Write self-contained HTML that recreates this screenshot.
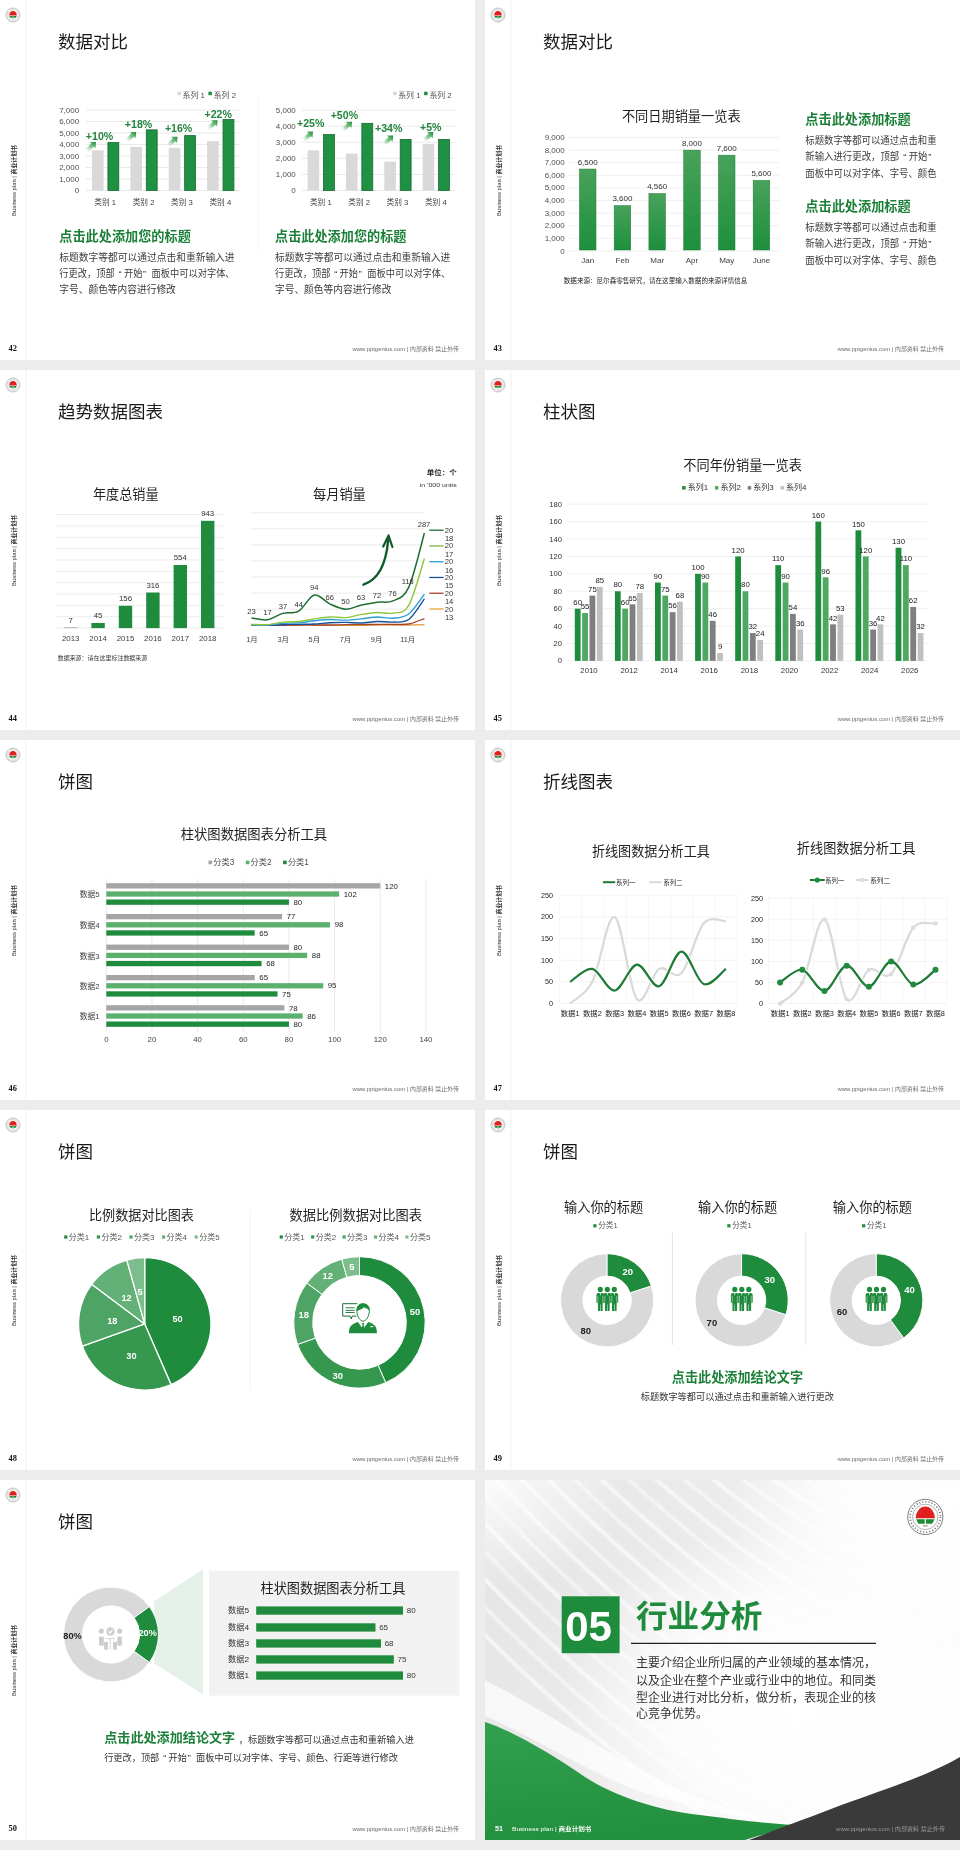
<!DOCTYPE html>
<html><head><meta charset="utf-8"><title>slides</title>
<style>
html,body{margin:0;padding:0;}
body{width:960px;height:1850px;background:#ececec;position:relative;overflow:hidden;font-family:'Liberation Sans','Noto Sans CJK SC',sans-serif;}
svg.s{position:absolute;display:block;font-family:'Liberation Sans','Noto Sans CJK SC',sans-serif;will-change:transform;}
</style></head><body>
<svg class="s" style="left:0px;top:0px" width="475" height="360" viewBox="0 0 475 360"><defs>
<linearGradient id="ga" x1="0" y1="0" x2="1" y2="0"><stop offset="0" stop-color="#8fd19c" stop-opacity="0"/><stop offset="0.45" stop-color="#5cb86c" stop-opacity="0.75"/><stop offset="1" stop-color="#1a8a36"/></linearGradient>
<linearGradient id="g43" x1="0" y1="0" x2="0" y2="1"><stop offset="0" stop-color="#48a25b"/><stop offset="1" stop-color="#1d8f3d"/></linearGradient>
</defs><rect width="475" height="360" fill="#fff"/><g transform="translate(13.00,15.00) scale(0.4)"><circle r="17.6" fill="none" stroke="#444" stroke-width="0.7"/><circle r="15.2" fill="none" stroke="#333" stroke-width="1.6" stroke-dasharray="1.1 2.0" opacity="0.7"/><circle r="12.7" fill="none" stroke="#666" stroke-width="0.5"/><path d="M-9.6,1.3 A9.6,11.6 0 0 1 9.6,1.3 Z" fill="#e0201c"/><path d="M-9.3,2.4 L-0.6,2.4 L-0.6,6.8 L-6.8,6.8 Z M9.3,2.4 L0.6,2.4 L0.6,6.8 L6.8,6.8 Z" fill="#1e8a36"/><rect x="-2.5" y="8.4" width="5" height="1.2" fill="#999"/></g><line x1="26.00" y1="0.00" x2="26.00" y2="360.00" stroke="#f1f1f1" stroke-width="1"/><text transform="translate(13.6,180.5) rotate(-90)" font-size="5.9" fill="#333" text-anchor="middle" dominant-baseline="central">Business plan | <tspan font-weight="bold">商业计划书</tspan></text><text x="8.6" y="348.6" font-size="8.4" font-weight="bold" fill="#111" dominant-baseline="central" font-family="'Liberation Serif',serif">42</text><text x="459.00" y="349.30" font-size="5.6" fill="#6a6a6a" text-anchor="end" textLength="106.5" lengthAdjust="spacingAndGlyphs" dominant-baseline="central">www.pptgenius.com | 内部资料 禁止外传</text><text x="58.00" y="42.30" font-size="17.5" fill="#1a1a1a" dominant-baseline="central">数据对比</text><line x1="86.00" y1="190.50" x2="239.50" y2="190.50" stroke="#dadada" stroke-width="0.6"/><text x="79.20" y="190.50" font-size="8.0" fill="#505050" text-anchor="end" dominant-baseline="central">0</text><line x1="86.00" y1="179.00" x2="239.50" y2="179.00" stroke="#dadada" stroke-width="0.6"/><text x="79.20" y="179.00" font-size="8.0" fill="#505050" text-anchor="end" dominant-baseline="central">1,000</text><line x1="86.00" y1="167.50" x2="239.50" y2="167.50" stroke="#dadada" stroke-width="0.6"/><text x="79.20" y="167.50" font-size="8.0" fill="#505050" text-anchor="end" dominant-baseline="central">2,000</text><line x1="86.00" y1="156.00" x2="239.50" y2="156.00" stroke="#dadada" stroke-width="0.6"/><text x="79.20" y="156.00" font-size="8.0" fill="#505050" text-anchor="end" dominant-baseline="central">3,000</text><line x1="86.00" y1="144.50" x2="239.50" y2="144.50" stroke="#dadada" stroke-width="0.6"/><text x="79.20" y="144.50" font-size="8.0" fill="#505050" text-anchor="end" dominant-baseline="central">4,000</text><line x1="86.00" y1="133.00" x2="239.50" y2="133.00" stroke="#dadada" stroke-width="0.6"/><text x="79.20" y="133.00" font-size="8.0" fill="#505050" text-anchor="end" dominant-baseline="central">5,000</text><line x1="86.00" y1="121.50" x2="239.50" y2="121.50" stroke="#dadada" stroke-width="0.6"/><text x="79.20" y="121.50" font-size="8.0" fill="#505050" text-anchor="end" dominant-baseline="central">6,000</text><line x1="86.00" y1="110.00" x2="239.50" y2="110.00" stroke="#dadada" stroke-width="0.6"/><text x="79.20" y="110.00" font-size="8.0" fill="#505050" text-anchor="end" dominant-baseline="central">7,000</text><rect x="92.00" y="150.25" width="11.60" height="40.25" fill="#d9d9d9"/><rect x="107.90" y="142.50" width="10.90" height="48.00" fill="#1e9142" stroke="#176b30" stroke-width="0.8"/><text x="105.19" y="202.70" font-size="7.7" fill="#404040" text-anchor="middle" dominant-baseline="central">类别 1</text><rect x="130.38" y="146.80" width="11.60" height="43.70" fill="#d9d9d9"/><rect x="146.28" y="129.85" width="10.90" height="60.65" fill="#1e9142" stroke="#176b30" stroke-width="0.8"/><text x="143.56" y="202.70" font-size="7.7" fill="#404040" text-anchor="middle" dominant-baseline="central">类别 2</text><rect x="168.75" y="147.95" width="11.60" height="42.55" fill="#d9d9d9"/><rect x="184.65" y="135.60" width="10.90" height="54.90" fill="#1e9142" stroke="#176b30" stroke-width="0.8"/><text x="181.94" y="202.70" font-size="7.7" fill="#404040" text-anchor="middle" dominant-baseline="central">类别 3</text><rect x="207.12" y="141.05" width="11.60" height="49.45" fill="#d9d9d9"/><rect x="223.03" y="119.50" width="10.90" height="71.00" fill="#1e9142" stroke="#176b30" stroke-width="0.8"/><text x="220.31" y="202.70" font-size="7.7" fill="#404040" text-anchor="middle" dominant-baseline="central">类别 4</text><rect x="177.50" y="91.70" width="3.50" height="3.50" fill="#d9d9d9"/><text x="182.50" y="95.60" font-size="7.9" fill="#505050" dominant-baseline="central">系列 1</text><rect x="208.40" y="91.70" width="3.50" height="3.50" fill="#1f8b3c"/><text x="213.70" y="95.60" font-size="7.9" fill="#505050" dominant-baseline="central">系列 2</text><g transform="translate(96.00,142.00) rotate(-42) scale(1.0)"><path d="M0,0 L-4.6,-4.3 L-4.6,-2.0 L-13,-2.0 L-13,2.0 L-4.6,2.0 L-4.6,4.3 Z" fill="url(#ga)"/></g><text x="85.80" y="135.90" font-size="10.6" fill="#22853d" font-weight="bold" dominant-baseline="central">+10%</text><g transform="translate(136.20,132.00) rotate(-42) scale(1.0)"><path d="M0,0 L-4.6,-4.3 L-4.6,-2.0 L-13,-2.0 L-13,2.0 L-4.6,2.0 L-4.6,4.3 Z" fill="url(#ga)"/></g><text x="124.80" y="124.20" font-size="10.6" fill="#22853d" font-weight="bold" dominant-baseline="central">+18%</text><g transform="translate(177.50,136.80) rotate(-42) scale(1.0)"><path d="M0,0 L-4.6,-4.3 L-4.6,-2.0 L-13,-2.0 L-13,2.0 L-4.6,2.0 L-4.6,4.3 Z" fill="url(#ga)"/></g><text x="164.90" y="128.20" font-size="10.6" fill="#22853d" font-weight="bold" dominant-baseline="central">+16%</text><g transform="translate(217.60,120.20) rotate(-42) scale(1.0)"><path d="M0,0 L-4.6,-4.3 L-4.6,-2.0 L-13,-2.0 L-13,2.0 L-4.6,2.0 L-4.6,4.3 Z" fill="url(#ga)"/></g><text x="204.50" y="113.90" font-size="10.6" fill="#22853d" font-weight="bold" dominant-baseline="central">+22%</text><line x1="301.60" y1="190.50" x2="455.00" y2="190.50" stroke="#dadada" stroke-width="0.6"/><text x="295.80" y="190.50" font-size="8.0" fill="#505050" text-anchor="end" dominant-baseline="central">0</text><line x1="301.60" y1="174.44" x2="455.00" y2="174.44" stroke="#dadada" stroke-width="0.6"/><text x="295.80" y="174.44" font-size="8.0" fill="#505050" text-anchor="end" dominant-baseline="central">1,000</text><line x1="301.60" y1="158.38" x2="455.00" y2="158.38" stroke="#dadada" stroke-width="0.6"/><text x="295.80" y="158.38" font-size="8.0" fill="#505050" text-anchor="end" dominant-baseline="central">2,000</text><line x1="301.60" y1="142.32" x2="455.00" y2="142.32" stroke="#dadada" stroke-width="0.6"/><text x="295.80" y="142.32" font-size="8.0" fill="#505050" text-anchor="end" dominant-baseline="central">3,000</text><line x1="301.60" y1="126.26" x2="455.00" y2="126.26" stroke="#dadada" stroke-width="0.6"/><text x="295.80" y="126.26" font-size="8.0" fill="#505050" text-anchor="end" dominant-baseline="central">4,000</text><line x1="301.60" y1="110.20" x2="455.00" y2="110.20" stroke="#dadada" stroke-width="0.6"/><text x="295.80" y="110.20" font-size="8.0" fill="#505050" text-anchor="end" dominant-baseline="central">5,000</text><rect x="307.60" y="150.35" width="11.60" height="40.15" fill="#d9d9d9"/><rect x="323.50" y="134.59" width="10.90" height="55.91" fill="#1e9142" stroke="#176b30" stroke-width="0.8"/><text x="320.78" y="202.70" font-size="7.7" fill="#404040" text-anchor="middle" dominant-baseline="central">类别 1</text><rect x="345.95" y="153.56" width="11.60" height="36.94" fill="#d9d9d9"/><rect x="361.85" y="123.35" width="10.90" height="67.15" fill="#1e9142" stroke="#176b30" stroke-width="0.8"/><text x="359.13" y="202.70" font-size="7.7" fill="#404040" text-anchor="middle" dominant-baseline="central">类别 2</text><rect x="384.30" y="161.59" width="11.60" height="28.91" fill="#d9d9d9"/><rect x="400.20" y="139.41" width="10.90" height="51.09" fill="#1e9142" stroke="#176b30" stroke-width="0.8"/><text x="397.48" y="202.70" font-size="7.7" fill="#404040" text-anchor="middle" dominant-baseline="central">类别 3</text><rect x="422.65" y="143.93" width="11.60" height="46.57" fill="#d9d9d9"/><rect x="438.55" y="139.41" width="10.90" height="51.09" fill="#1e9142" stroke="#176b30" stroke-width="0.8"/><text x="435.82" y="202.70" font-size="7.7" fill="#404040" text-anchor="middle" dominant-baseline="central">类别 4</text><rect x="393.20" y="91.70" width="3.50" height="3.50" fill="#d9d9d9"/><text x="398.20" y="95.60" font-size="7.9" fill="#505050" dominant-baseline="central">系列 1</text><rect x="424.10" y="91.70" width="3.50" height="3.50" fill="#1f8b3c"/><text x="429.40" y="95.60" font-size="7.9" fill="#505050" dominant-baseline="central">系列 2</text><g transform="translate(313.00,131.60) rotate(-42) scale(1.0)"><path d="M0,0 L-4.6,-4.3 L-4.6,-2.0 L-13,-2.0 L-13,2.0 L-4.6,2.0 L-4.6,4.3 Z" fill="url(#ga)"/></g><text x="297.00" y="123.20" font-size="10.6" fill="#22853d" font-weight="bold" dominant-baseline="central">+25%</text><g transform="translate(352.00,121.80) rotate(-42) scale(1.0)"><path d="M0,0 L-4.6,-4.3 L-4.6,-2.0 L-13,-2.0 L-13,2.0 L-4.6,2.0 L-4.6,4.3 Z" fill="url(#ga)"/></g><text x="330.70" y="115.20" font-size="10.6" fill="#22853d" font-weight="bold" dominant-baseline="central">+50%</text><g transform="translate(393.20,135.60) rotate(-42) scale(1.0)"><path d="M0,0 L-4.6,-4.3 L-4.6,-2.0 L-13,-2.0 L-13,2.0 L-4.6,2.0 L-4.6,4.3 Z" fill="url(#ga)"/></g><text x="375.00" y="127.90" font-size="10.6" fill="#22853d" font-weight="bold" dominant-baseline="central">+34%</text><g transform="translate(433.30,132.10) rotate(-42) scale(1.0)"><path d="M0,0 L-4.6,-4.3 L-4.6,-2.0 L-13,-2.0 L-13,2.0 L-4.6,2.0 L-4.6,4.3 Z" fill="url(#ga)"/></g><text x="420.00" y="126.70" font-size="10.6" fill="#22853d" font-weight="bold" dominant-baseline="central">+5%</text><line x1="258.00" y1="95.00" x2="258.00" y2="250.00" stroke="#f5f5f5" stroke-width="1"/><text x="59.30" y="236.90" font-size="13.2" fill="#1c8038" font-weight="bold" textLength="131.5" lengthAdjust="spacingAndGlyphs" dominant-baseline="central">点击此处添加您的标题</text><text x="59.30" y="257.20" font-size="9.7" fill="#3a3a3a" textLength="175.3" lengthAdjust="spacingAndGlyphs" dominant-baseline="central">标题数字等都可以通过点击和重新输入进</text><text x="59.30" y="273.40" font-size="9.7" fill="#3a3a3a" textLength="175.3" lengthAdjust="spacingAndGlyphs" dominant-baseline="central">行更改，顶部<tspan dx="4.07">“</tspan><tspan dx="2.42">开始</tspan><tspan dx="0.78">”</tspan><tspan dx="5.63">面板中可以对字体、</tspan></text><text x="59.30" y="289.90" font-size="9.7" fill="#3a3a3a" textLength="116.5" lengthAdjust="spacingAndGlyphs" dominant-baseline="central">字号、颜色等内容进行修改</text><text x="275.00" y="236.90" font-size="13.2" fill="#1c8038" font-weight="bold" textLength="131.5" lengthAdjust="spacingAndGlyphs" dominant-baseline="central">点击此处添加您的标题</text><text x="275.00" y="257.20" font-size="9.7" fill="#3a3a3a" textLength="175.3" lengthAdjust="spacingAndGlyphs" dominant-baseline="central">标题数字等都可以通过点击和重新输入进</text><text x="275.00" y="273.40" font-size="9.7" fill="#3a3a3a" textLength="175.3" lengthAdjust="spacingAndGlyphs" dominant-baseline="central">行更改，顶部<tspan dx="4.07">“</tspan><tspan dx="2.42">开始</tspan><tspan dx="0.78">”</tspan><tspan dx="5.63">面板中可以对字体、</tspan></text><text x="275.00" y="289.90" font-size="9.7" fill="#3a3a3a" textLength="116.5" lengthAdjust="spacingAndGlyphs" dominant-baseline="central">字号、颜色等内容进行修改</text></svg><svg class="s" style="left:485px;top:0px" width="475" height="360" viewBox="0 0 475 360"><rect width="475" height="360" fill="#fff"/><g transform="translate(13.00,15.00) scale(0.4)"><circle r="17.6" fill="none" stroke="#444" stroke-width="0.7"/><circle r="15.2" fill="none" stroke="#333" stroke-width="1.6" stroke-dasharray="1.1 2.0" opacity="0.7"/><circle r="12.7" fill="none" stroke="#666" stroke-width="0.5"/><path d="M-9.6,1.3 A9.6,11.6 0 0 1 9.6,1.3 Z" fill="#e0201c"/><path d="M-9.3,2.4 L-0.6,2.4 L-0.6,6.8 L-6.8,6.8 Z M9.3,2.4 L0.6,2.4 L0.6,6.8 L6.8,6.8 Z" fill="#1e8a36"/><rect x="-2.5" y="8.4" width="5" height="1.2" fill="#999"/></g><line x1="26.00" y1="0.00" x2="26.00" y2="360.00" stroke="#f1f1f1" stroke-width="1"/><text transform="translate(13.6,180.5) rotate(-90)" font-size="5.9" fill="#333" text-anchor="middle" dominant-baseline="central">Business plan | <tspan font-weight="bold">商业计划书</tspan></text><text x="8.6" y="348.6" font-size="8.4" font-weight="bold" fill="#111" dominant-baseline="central" font-family="'Liberation Serif',serif">43</text><text x="459.00" y="349.30" font-size="5.6" fill="#6a6a6a" text-anchor="end" textLength="106.5" lengthAdjust="spacingAndGlyphs" dominant-baseline="central">www.pptgenius.com | 内部资料 禁止外传</text><text x="58.00" y="42.30" font-size="17.5" fill="#1a1a1a" dominant-baseline="central">数据对比</text><line x1="83.75" y1="251.00" x2="293.75" y2="251.00" stroke="#e4e4e4" stroke-width="0.6"/><text x="79.70" y="251.00" font-size="8.0" fill="#505050" text-anchor="end" dominant-baseline="central">0</text><line x1="83.75" y1="238.39" x2="293.75" y2="238.39" stroke="#e4e4e4" stroke-width="0.6"/><text x="79.70" y="238.39" font-size="8.0" fill="#505050" text-anchor="end" dominant-baseline="central">1,000</text><line x1="83.75" y1="225.78" x2="293.75" y2="225.78" stroke="#e4e4e4" stroke-width="0.6"/><text x="79.70" y="225.78" font-size="8.0" fill="#505050" text-anchor="end" dominant-baseline="central">2,000</text><line x1="83.75" y1="213.17" x2="293.75" y2="213.17" stroke="#e4e4e4" stroke-width="0.6"/><text x="79.70" y="213.17" font-size="8.0" fill="#505050" text-anchor="end" dominant-baseline="central">3,000</text><line x1="83.75" y1="200.56" x2="293.75" y2="200.56" stroke="#e4e4e4" stroke-width="0.6"/><text x="79.70" y="200.56" font-size="8.0" fill="#505050" text-anchor="end" dominant-baseline="central">4,000</text><line x1="83.75" y1="187.94" x2="293.75" y2="187.94" stroke="#e4e4e4" stroke-width="0.6"/><text x="79.70" y="187.94" font-size="8.0" fill="#505050" text-anchor="end" dominant-baseline="central">5,000</text><line x1="83.75" y1="175.33" x2="293.75" y2="175.33" stroke="#e4e4e4" stroke-width="0.6"/><text x="79.70" y="175.33" font-size="8.0" fill="#505050" text-anchor="end" dominant-baseline="central">6,000</text><line x1="83.75" y1="162.72" x2="293.75" y2="162.72" stroke="#e4e4e4" stroke-width="0.6"/><text x="79.70" y="162.72" font-size="8.0" fill="#505050" text-anchor="end" dominant-baseline="central">7,000</text><line x1="83.75" y1="150.11" x2="293.75" y2="150.11" stroke="#e4e4e4" stroke-width="0.6"/><text x="79.70" y="150.11" font-size="8.0" fill="#505050" text-anchor="end" dominant-baseline="central">8,000</text><line x1="83.75" y1="137.50" x2="293.75" y2="137.50" stroke="#e4e4e4" stroke-width="0.6"/><text x="79.70" y="137.50" font-size="8.0" fill="#505050" text-anchor="end" dominant-baseline="central">9,000</text><text x="136.90" y="116.60" font-size="13.2" fill="#222" textLength="118.7" lengthAdjust="spacingAndGlyphs" dominant-baseline="central">不同日期销量一览表</text><rect x="94.40" y="169.03" width="16.60" height="80.97" fill="url(#g43)" stroke="#1f7f37" stroke-width="0.5"/><text x="102.70" y="162.23" font-size="8.0" fill="#333" text-anchor="middle" dominant-baseline="central">6,500</text><text x="102.70" y="260.40" font-size="8.0" fill="#404040" text-anchor="middle" dominant-baseline="central">Jan</text><rect x="129.15" y="205.60" width="16.60" height="44.40" fill="url(#g43)" stroke="#1f7f37" stroke-width="0.5"/><text x="137.45" y="198.80" font-size="8.0" fill="#333" text-anchor="middle" dominant-baseline="central">3,600</text><text x="137.45" y="260.40" font-size="8.0" fill="#404040" text-anchor="middle" dominant-baseline="central">Feb</text><rect x="163.90" y="193.49" width="16.60" height="56.51" fill="url(#g43)" stroke="#1f7f37" stroke-width="0.5"/><text x="172.20" y="186.69" font-size="8.0" fill="#333" text-anchor="middle" dominant-baseline="central">4,560</text><text x="172.20" y="260.40" font-size="8.0" fill="#404040" text-anchor="middle" dominant-baseline="central">Mar</text><rect x="198.65" y="150.11" width="16.60" height="99.89" fill="url(#g43)" stroke="#1f7f37" stroke-width="0.5"/><text x="206.95" y="143.31" font-size="8.0" fill="#333" text-anchor="middle" dominant-baseline="central">8,000</text><text x="206.95" y="260.40" font-size="8.0" fill="#404040" text-anchor="middle" dominant-baseline="central">Apr</text><rect x="233.40" y="155.16" width="16.60" height="94.84" fill="url(#g43)" stroke="#1f7f37" stroke-width="0.5"/><text x="241.70" y="148.36" font-size="8.0" fill="#333" text-anchor="middle" dominant-baseline="central">7,600</text><text x="241.70" y="260.40" font-size="8.0" fill="#404040" text-anchor="middle" dominant-baseline="central">May</text><rect x="268.15" y="180.38" width="16.60" height="69.62" fill="url(#g43)" stroke="#1f7f37" stroke-width="0.5"/><text x="276.45" y="173.58" font-size="8.0" fill="#333" text-anchor="middle" dominant-baseline="central">5,600</text><text x="276.45" y="260.40" font-size="8.0" fill="#404040" text-anchor="middle" dominant-baseline="central">June</text><text x="78.80" y="280.60" font-size="6.3" fill="#222" textLength="183.5" lengthAdjust="spacingAndGlyphs" dominant-baseline="central">数据来源：尼尔森零售研究，请在这里输入数据的来源详情信息</text><text x="320.30" y="119.70" font-size="13.2" fill="#1c8038" font-weight="bold" textLength="105.4" lengthAdjust="spacingAndGlyphs" dominant-baseline="central">点击此处添加标题</text><text x="320.30" y="140.30" font-size="9.7" fill="#3a3a3a" textLength="131.3" lengthAdjust="spacingAndGlyphs" dominant-baseline="central">标题数字等都可以通过点击和重</text><text x="320.30" y="156.25" font-size="9.7" fill="#3a3a3a" textLength="126" lengthAdjust="spacingAndGlyphs" dominant-baseline="central">新输入进行更改，顶部<tspan dx="4.07">“</tspan><tspan dx="2.42">开始</tspan><tspan dx="0.78">”</tspan></text><text x="320.30" y="173.10" font-size="9.7" fill="#3a3a3a" textLength="131.3" lengthAdjust="spacingAndGlyphs" dominant-baseline="central">面板中可以对字体、字号、颜色</text><text x="320.30" y="206.90" font-size="13.2" fill="#1c8038" font-weight="bold" textLength="105.4" lengthAdjust="spacingAndGlyphs" dominant-baseline="central">点击此处添加标题</text><text x="320.30" y="227.50" font-size="9.7" fill="#3a3a3a" textLength="131.3" lengthAdjust="spacingAndGlyphs" dominant-baseline="central">标题数字等都可以通过点击和重</text><text x="320.30" y="243.40" font-size="9.7" fill="#3a3a3a" textLength="126" lengthAdjust="spacingAndGlyphs" dominant-baseline="central">新输入进行更改，顶部<tspan dx="4.07">“</tspan><tspan dx="2.42">开始</tspan><tspan dx="0.78">”</tspan></text><text x="320.30" y="260.30" font-size="9.7" fill="#3a3a3a" textLength="131.3" lengthAdjust="spacingAndGlyphs" dominant-baseline="central">面板中可以对字体、字号、颜色</text></svg><svg class="s" style="left:0px;top:370px" width="475" height="360" viewBox="0 0 475 360"><rect width="475" height="360" fill="#fff"/><g transform="translate(13.00,15.00) scale(0.4)"><circle r="17.6" fill="none" stroke="#444" stroke-width="0.7"/><circle r="15.2" fill="none" stroke="#333" stroke-width="1.6" stroke-dasharray="1.1 2.0" opacity="0.7"/><circle r="12.7" fill="none" stroke="#666" stroke-width="0.5"/><path d="M-9.6,1.3 A9.6,11.6 0 0 1 9.6,1.3 Z" fill="#e0201c"/><path d="M-9.3,2.4 L-0.6,2.4 L-0.6,6.8 L-6.8,6.8 Z M9.3,2.4 L0.6,2.4 L0.6,6.8 L6.8,6.8 Z" fill="#1e8a36"/><rect x="-2.5" y="8.4" width="5" height="1.2" fill="#999"/></g><line x1="26.00" y1="0.00" x2="26.00" y2="360.00" stroke="#f1f1f1" stroke-width="1"/><text transform="translate(13.6,180.5) rotate(-90)" font-size="5.9" fill="#333" text-anchor="middle" dominant-baseline="central">Business plan | <tspan font-weight="bold">商业计划书</tspan></text><text x="8.6" y="348.6" font-size="8.4" font-weight="bold" fill="#111" dominant-baseline="central" font-family="'Liberation Serif',serif">44</text><text x="459.00" y="349.30" font-size="5.6" fill="#6a6a6a" text-anchor="end" textLength="106.5" lengthAdjust="spacingAndGlyphs" dominant-baseline="central">www.pptgenius.com | 内部资料 禁止外传</text><text x="58.00" y="42.30" font-size="17.5" fill="#1a1a1a" dominant-baseline="central">趋势数据图表</text><text x="93.00" y="124.20" font-size="13.2" fill="#222" textLength="65.6" lengthAdjust="spacingAndGlyphs" dominant-baseline="central">年度总销量</text><line x1="56.25" y1="258.10" x2="223.30" y2="258.10" stroke="#dedede" stroke-width="0.6"/><line x1="56.25" y1="246.75" x2="223.30" y2="246.75" stroke="#dedede" stroke-width="0.6"/><line x1="56.25" y1="235.40" x2="223.30" y2="235.40" stroke="#dedede" stroke-width="0.6"/><line x1="56.25" y1="224.05" x2="223.30" y2="224.05" stroke="#dedede" stroke-width="0.6"/><line x1="56.25" y1="212.70" x2="223.30" y2="212.70" stroke="#dedede" stroke-width="0.6"/><line x1="56.25" y1="201.35" x2="223.30" y2="201.35" stroke="#dedede" stroke-width="0.6"/><line x1="56.25" y1="190.00" x2="223.30" y2="190.00" stroke="#dedede" stroke-width="0.6"/><line x1="56.25" y1="178.65" x2="223.30" y2="178.65" stroke="#dedede" stroke-width="0.6"/><line x1="56.25" y1="167.30" x2="223.30" y2="167.30" stroke="#dedede" stroke-width="0.6"/><line x1="56.25" y1="155.95" x2="223.30" y2="155.95" stroke="#dedede" stroke-width="0.6"/><line x1="56.25" y1="144.60" x2="223.30" y2="144.60" stroke="#dedede" stroke-width="0.6"/><rect x="64.00" y="257.20" width="13.40" height="0.90" fill="#b5b5b5"/><text x="70.70" y="250.10" font-size="7.8" fill="#333" text-anchor="middle" dominant-baseline="central">7</text><text x="70.70" y="268.50" font-size="7.9" fill="#404040" text-anchor="middle" dominant-baseline="central">2013</text><rect x="91.40" y="253.00" width="13.40" height="5.10" fill="#1f8b3c"/><text x="98.10" y="245.90" font-size="7.8" fill="#333" text-anchor="middle" dominant-baseline="central">45</text><text x="98.10" y="268.50" font-size="7.9" fill="#404040" text-anchor="middle" dominant-baseline="central">2014</text><rect x="118.80" y="235.80" width="13.40" height="22.30" fill="#1f8b3c"/><text x="125.50" y="228.70" font-size="7.8" fill="#333" text-anchor="middle" dominant-baseline="central">156</text><text x="125.50" y="268.50" font-size="7.9" fill="#404040" text-anchor="middle" dominant-baseline="central">2015</text><rect x="146.20" y="222.50" width="13.40" height="35.60" fill="#1f8b3c"/><text x="152.90" y="215.40" font-size="7.8" fill="#333" text-anchor="middle" dominant-baseline="central">316</text><text x="152.90" y="268.50" font-size="7.9" fill="#404040" text-anchor="middle" dominant-baseline="central">2016</text><rect x="173.60" y="195.00" width="13.40" height="63.10" fill="#1f8b3c"/><text x="180.30" y="187.90" font-size="7.8" fill="#333" text-anchor="middle" dominant-baseline="central">554</text><text x="180.30" y="268.50" font-size="7.9" fill="#404040" text-anchor="middle" dominant-baseline="central">2017</text><rect x="201.00" y="150.80" width="13.40" height="107.30" fill="#1f8b3c"/><text x="207.70" y="143.70" font-size="7.8" fill="#333" text-anchor="middle" dominant-baseline="central">943</text><text x="207.70" y="268.50" font-size="7.9" fill="#404040" text-anchor="middle" dominant-baseline="central">2018</text><text x="57.70" y="288.30" font-size="6.0" fill="#333" textLength="89.6" lengthAdjust="spacingAndGlyphs" dominant-baseline="central">数据来源：请在这里标注数据来源</text><text x="456.80" y="102.50" font-size="7.0" fill="#222" text-anchor="end" font-weight="bold" textLength="30" lengthAdjust="spacingAndGlyphs" dominant-baseline="central">单位：个</text><text x="456.80" y="114.70" font-size="6.0" fill="#333" text-anchor="end" textLength="37" lengthAdjust="spacingAndGlyphs" dominant-baseline="central">in '000 units</text><text x="313.00" y="124.70" font-size="13.2" fill="#222" textLength="52.8" lengthAdjust="spacingAndGlyphs" dominant-baseline="central">每月销量</text><line x1="250.80" y1="142.70" x2="424.50" y2="142.70" stroke="#dedede" stroke-width="0.6"/><line x1="250.80" y1="158.78" x2="424.50" y2="158.78" stroke="#dedede" stroke-width="0.6"/><line x1="250.80" y1="174.86" x2="424.50" y2="174.86" stroke="#dedede" stroke-width="0.6"/><line x1="250.80" y1="190.94" x2="424.50" y2="190.94" stroke="#dedede" stroke-width="0.6"/><line x1="250.80" y1="207.02" x2="424.50" y2="207.02" stroke="#dedede" stroke-width="0.6"/><line x1="250.80" y1="223.10" x2="424.50" y2="223.10" stroke="#dedede" stroke-width="0.6"/><line x1="250.80" y1="239.18" x2="424.50" y2="239.18" stroke="#dedede" stroke-width="0.6"/><line x1="250.80" y1="255.26" x2="424.50" y2="255.26" stroke="#dedede" stroke-width="0.6"/><path d="M251.50,255.30 C254.12,255.30 261.98,255.30 267.22,255.30 C272.46,255.30 277.70,255.30 282.94,255.30 C288.18,255.30 293.42,255.30 298.66,255.30 C303.90,255.30 309.14,255.30 314.38,255.30 C319.62,255.30 324.86,255.30 330.10,255.30 C335.34,255.30 340.58,255.30 345.82,255.30 C351.06,255.30 356.30,255.35 361.54,255.30 C366.78,255.25 372.02,255.03 377.26,254.98 C382.50,254.92 387.74,254.98 392.98,254.98 C398.22,254.98 403.46,255.03 408.70,254.98 C413.94,254.92 421.80,254.71 424.42,254.66" fill="none" stroke="#e8a03a" stroke-width="1.3"/><path d="M251.50,255.30 C254.12,255.30 261.98,255.30 267.22,255.30 C272.46,255.30 277.70,255.35 282.94,255.30 C288.18,255.25 293.42,255.03 298.66,254.98 C303.90,254.92 309.14,254.98 314.38,254.98 C319.62,254.98 324.86,255.03 330.10,254.98 C335.34,254.92 340.58,254.71 345.82,254.66 C351.06,254.60 356.30,254.71 361.54,254.66 C366.78,254.60 372.02,254.39 377.26,254.34 C382.50,254.28 387.74,254.39 392.98,254.34 C398.22,254.28 403.46,254.98 408.70,254.01 C413.94,253.05 421.80,249.46 424.42,248.55" fill="none" stroke="#a8432a" stroke-width="1.3"/><path d="M251.50,255.30 C254.12,255.30 261.98,255.41 267.22,255.30 C272.46,255.19 277.70,254.82 282.94,254.66 C288.18,254.50 293.42,254.44 298.66,254.34 C303.90,254.23 309.14,254.28 314.38,254.01 C319.62,253.75 324.86,253.00 330.10,252.73 C335.34,252.46 340.58,252.35 345.82,252.41 C351.06,252.46 356.30,253.21 361.54,253.05 C366.78,252.89 372.02,251.60 377.26,251.44 C382.50,251.28 387.74,252.41 392.98,252.08 C398.22,251.76 403.46,253.37 408.70,249.51 C413.94,245.65 421.80,232.36 424.42,228.93" fill="none" stroke="#17509a" stroke-width="1.4"/><path d="M251.50,254.98 C254.12,254.98 261.98,255.25 267.22,254.98 C272.46,254.71 277.70,253.75 282.94,253.37 C288.18,253.00 293.42,253.16 298.66,252.73 C303.90,252.30 309.14,251.33 314.38,250.80 C319.62,250.26 324.86,249.62 330.10,249.51 C335.34,249.40 340.58,250.26 345.82,250.15 C351.06,250.05 356.30,249.40 361.54,248.87 C366.78,248.33 372.02,247.05 377.26,246.94 C382.50,246.83 387.74,248.71 392.98,248.22 C398.22,247.74 403.46,248.06 408.70,244.04 C413.94,240.02 421.80,227.43 424.42,224.10" fill="none" stroke="#2a9fd6" stroke-width="1.4"/><path d="M251.50,254.34 C254.12,254.39 261.98,255.03 267.22,254.66 C272.46,254.28 277.70,252.62 282.94,252.08 C288.18,251.55 293.42,251.98 298.66,251.44 C303.90,250.90 309.14,249.62 314.38,248.87 C319.62,248.12 324.86,247.15 330.10,246.94 C335.34,246.72 340.58,248.01 345.82,247.58 C351.06,247.15 356.30,245.22 361.54,244.37 C366.78,243.51 372.02,242.65 377.26,242.44 C382.50,242.22 387.74,244.26 392.98,243.08 C398.22,241.90 403.46,244.47 408.70,235.36 C413.94,226.25 421.80,196.23 424.42,188.41" fill="none" stroke="#8fc63a" stroke-width="1.4"/><path d="M251.50,247.90 C254.12,248.22 261.98,250.58 267.22,249.83 C272.46,249.08 277.70,244.85 282.94,243.40 C288.18,241.95 293.42,244.20 298.66,241.15 C303.90,238.09 309.14,226.25 314.38,225.07 C319.62,223.89 324.86,231.72 330.10,234.07 C335.34,236.43 340.58,239.06 345.82,239.22 C351.06,239.38 356.30,236.22 361.54,235.04 C366.78,233.86 372.02,232.84 377.26,232.14 C382.50,231.45 387.74,233.32 392.98,230.86 C398.22,228.39 403.46,228.66 408.70,217.35 C413.94,206.04 421.80,172.06 424.42,163.00" fill="none" stroke="#1d6e33" stroke-width="1.5"/><text x="251.50" y="241.00" font-size="7.6" fill="#333" text-anchor="middle" dominant-baseline="central">23</text><text x="267.50" y="242.40" font-size="7.6" fill="#333" text-anchor="middle" dominant-baseline="central">17</text><text x="283.00" y="236.00" font-size="7.6" fill="#333" text-anchor="middle" dominant-baseline="central">37</text><text x="298.70" y="234.50" font-size="7.6" fill="#333" text-anchor="middle" dominant-baseline="central">44</text><text x="314.30" y="217.70" font-size="7.6" fill="#333" text-anchor="middle" dominant-baseline="central">94</text><text x="329.80" y="227.00" font-size="7.6" fill="#333" text-anchor="middle" dominant-baseline="central">66</text><text x="345.40" y="231.80" font-size="7.6" fill="#333" text-anchor="middle" dominant-baseline="central">50</text><text x="361.00" y="227.80" font-size="7.6" fill="#333" text-anchor="middle" dominant-baseline="central">63</text><text x="377.00" y="225.40" font-size="7.6" fill="#333" text-anchor="middle" dominant-baseline="central">72</text><text x="392.60" y="223.00" font-size="7.6" fill="#333" text-anchor="middle" dominant-baseline="central">76</text><text x="407.70" y="211.50" font-size="7.6" fill="#333" text-anchor="middle" dominant-baseline="central">118</text><text x="424.00" y="154.20" font-size="7.6" fill="#333" text-anchor="middle" dominant-baseline="central">287</text><text x="252.00" y="269.20" font-size="7.4" fill="#404040" text-anchor="middle" dominant-baseline="central">1月</text><text x="283.14" y="269.20" font-size="7.4" fill="#404040" text-anchor="middle" dominant-baseline="central">3月</text><text x="314.28" y="269.20" font-size="7.4" fill="#404040" text-anchor="middle" dominant-baseline="central">5月</text><text x="345.42" y="269.20" font-size="7.4" fill="#404040" text-anchor="middle" dominant-baseline="central">7月</text><text x="376.56" y="269.20" font-size="7.4" fill="#404040" text-anchor="middle" dominant-baseline="central">9月</text><text x="407.70" y="269.20" font-size="7.4" fill="#404040" text-anchor="middle" dominant-baseline="central">11月</text><line x1="429.30" y1="160.20" x2="443.60" y2="160.20" stroke="#1d6e33" stroke-width="1.3"/><text x="444.80" y="160.20" font-size="7.6" fill="#333" dominant-baseline="central">20</text><text x="444.90" y="168.60" font-size="7.6" fill="#333" dominant-baseline="central">18</text><line x1="429.30" y1="175.96" x2="443.60" y2="175.96" stroke="#7cb342" stroke-width="1.3"/><text x="444.80" y="175.96" font-size="7.6" fill="#333" dominant-baseline="central">20</text><text x="444.90" y="184.36" font-size="7.6" fill="#333" dominant-baseline="central">17</text><line x1="429.30" y1="191.72" x2="443.60" y2="191.72" stroke="#2a9fd6" stroke-width="1.3"/><text x="444.80" y="191.72" font-size="7.6" fill="#333" dominant-baseline="central">20</text><text x="444.90" y="200.12" font-size="7.6" fill="#333" dominant-baseline="central">16</text><line x1="429.30" y1="207.48" x2="443.60" y2="207.48" stroke="#17509a" stroke-width="1.3"/><text x="444.80" y="207.48" font-size="7.6" fill="#333" dominant-baseline="central">20</text><text x="444.90" y="215.88" font-size="7.6" fill="#333" dominant-baseline="central">15</text><line x1="429.30" y1="223.24" x2="443.60" y2="223.24" stroke="#a8432a" stroke-width="1.3"/><text x="444.80" y="223.24" font-size="7.6" fill="#333" dominant-baseline="central">20</text><text x="444.90" y="231.64" font-size="7.6" fill="#333" dominant-baseline="central">14</text><line x1="429.30" y1="239.00" x2="443.60" y2="239.00" stroke="#e8a03a" stroke-width="1.3"/><text x="444.80" y="239.00" font-size="7.6" fill="#333" dominant-baseline="central">20</text><text x="444.90" y="247.40" font-size="7.6" fill="#333" dominant-baseline="central">13</text><path d="M363.4,214.6 C378,210 386,195 388.2,170" fill="none" stroke="#0d5a28" stroke-width="2.4" stroke-linecap="round"/><path d="M383.2,176.5 L388.6,165.5 L392.4,177" fill="none" stroke="#0d5a28" stroke-width="2.2" stroke-linecap="round" stroke-linejoin="round"/></svg><svg class="s" style="left:485px;top:370px" width="475" height="360" viewBox="0 0 475 360"><rect width="475" height="360" fill="#fff"/><g transform="translate(13.00,15.00) scale(0.4)"><circle r="17.6" fill="none" stroke="#444" stroke-width="0.7"/><circle r="15.2" fill="none" stroke="#333" stroke-width="1.6" stroke-dasharray="1.1 2.0" opacity="0.7"/><circle r="12.7" fill="none" stroke="#666" stroke-width="0.5"/><path d="M-9.6,1.3 A9.6,11.6 0 0 1 9.6,1.3 Z" fill="#e0201c"/><path d="M-9.3,2.4 L-0.6,2.4 L-0.6,6.8 L-6.8,6.8 Z M9.3,2.4 L0.6,2.4 L0.6,6.8 L6.8,6.8 Z" fill="#1e8a36"/><rect x="-2.5" y="8.4" width="5" height="1.2" fill="#999"/></g><line x1="26.00" y1="0.00" x2="26.00" y2="360.00" stroke="#f1f1f1" stroke-width="1"/><text transform="translate(13.6,180.5) rotate(-90)" font-size="5.9" fill="#333" text-anchor="middle" dominant-baseline="central">Business plan | <tspan font-weight="bold">商业计划书</tspan></text><text x="8.6" y="348.6" font-size="8.4" font-weight="bold" fill="#111" dominant-baseline="central" font-family="'Liberation Serif',serif">45</text><text x="459.00" y="349.30" font-size="5.6" fill="#6a6a6a" text-anchor="end" textLength="106.5" lengthAdjust="spacingAndGlyphs" dominant-baseline="central">www.pptgenius.com | 内部资料 禁止外传</text><text x="58.00" y="42.30" font-size="17.5" fill="#1a1a1a" dominant-baseline="central">柱状图</text><text x="198.30" y="95.20" font-size="13.2" fill="#222" textLength="118.6" lengthAdjust="spacingAndGlyphs" dominant-baseline="central">不同年份销量一览表</text><rect x="197.10" y="116.10" width="3.50" height="3.50" fill="#1f8b3c"/><text x="202.70" y="117.90" font-size="8.0" fill="#333" dominant-baseline="central">系列1</text><rect x="229.90" y="116.10" width="3.50" height="3.50" fill="#4ea862"/><text x="235.50" y="117.90" font-size="8.0" fill="#333" dominant-baseline="central">系列2</text><rect x="262.70" y="116.10" width="3.50" height="3.50" fill="#7f7f7f"/><text x="268.30" y="117.90" font-size="8.0" fill="#333" dominant-baseline="central">系列3</text><rect x="295.50" y="116.10" width="3.50" height="3.50" fill="#c0c0c0"/><text x="301.10" y="117.90" font-size="8.0" fill="#333" dominant-baseline="central">系列4</text><line x1="82.00" y1="290.90" x2="442.70" y2="290.90" stroke="#e6e6e6" stroke-width="0.6"/><text x="76.90" y="290.90" font-size="7.6" fill="#333" text-anchor="end" dominant-baseline="central">0</text><line x1="82.00" y1="273.49" x2="442.70" y2="273.49" stroke="#e6e6e6" stroke-width="0.6"/><text x="76.90" y="273.49" font-size="7.6" fill="#333" text-anchor="end" dominant-baseline="central">20</text><line x1="82.00" y1="256.08" x2="442.70" y2="256.08" stroke="#e6e6e6" stroke-width="0.6"/><text x="76.90" y="256.08" font-size="7.6" fill="#333" text-anchor="end" dominant-baseline="central">40</text><line x1="82.00" y1="238.67" x2="442.70" y2="238.67" stroke="#e6e6e6" stroke-width="0.6"/><text x="76.90" y="238.67" font-size="7.6" fill="#333" text-anchor="end" dominant-baseline="central">60</text><line x1="82.00" y1="221.26" x2="442.70" y2="221.26" stroke="#e6e6e6" stroke-width="0.6"/><text x="76.90" y="221.26" font-size="7.6" fill="#333" text-anchor="end" dominant-baseline="central">80</text><line x1="82.00" y1="203.84" x2="442.70" y2="203.84" stroke="#e6e6e6" stroke-width="0.6"/><text x="76.90" y="203.84" font-size="7.6" fill="#333" text-anchor="end" dominant-baseline="central">100</text><line x1="82.00" y1="186.43" x2="442.70" y2="186.43" stroke="#e6e6e6" stroke-width="0.6"/><text x="76.90" y="186.43" font-size="7.6" fill="#333" text-anchor="end" dominant-baseline="central">120</text><line x1="82.00" y1="169.02" x2="442.70" y2="169.02" stroke="#e6e6e6" stroke-width="0.6"/><text x="76.90" y="169.02" font-size="7.6" fill="#333" text-anchor="end" dominant-baseline="central">140</text><line x1="82.00" y1="151.61" x2="442.70" y2="151.61" stroke="#e6e6e6" stroke-width="0.6"/><text x="76.90" y="151.61" font-size="7.6" fill="#333" text-anchor="end" dominant-baseline="central">160</text><line x1="82.00" y1="134.20" x2="442.70" y2="134.20" stroke="#e6e6e6" stroke-width="0.6"/><text x="76.90" y="134.20" font-size="7.6" fill="#333" text-anchor="end" dominant-baseline="central">180</text><rect x="89.80" y="238.67" width="5.80" height="52.23" fill="#1f8b3c"/><text x="92.70" y="232.37" font-size="7.8" fill="#222" text-anchor="middle" dominant-baseline="central">60</text><rect x="97.15" y="243.02" width="5.80" height="47.88" fill="#4ea862"/><text x="100.05" y="236.72" font-size="7.8" fill="#222" text-anchor="middle" dominant-baseline="central">55</text><rect x="104.50" y="225.61" width="5.80" height="65.29" fill="#7f7f7f"/><text x="107.40" y="219.31" font-size="7.8" fill="#222" text-anchor="middle" dominant-baseline="central">75</text><rect x="111.85" y="216.90" width="5.80" height="74.00" fill="#c0c0c0"/><text x="114.75" y="210.60" font-size="7.8" fill="#222" text-anchor="middle" dominant-baseline="central">85</text><text x="104.00" y="300.50" font-size="7.8" fill="#333" text-anchor="middle" dominant-baseline="central">2010</text><rect x="129.90" y="221.26" width="5.80" height="69.64" fill="#1f8b3c"/><text x="132.80" y="214.96" font-size="7.8" fill="#222" text-anchor="middle" dominant-baseline="central">80</text><rect x="137.25" y="238.67" width="5.80" height="52.23" fill="#4ea862"/><text x="140.15" y="232.37" font-size="7.8" fill="#222" text-anchor="middle" dominant-baseline="central">60</text><rect x="144.60" y="234.31" width="5.80" height="56.59" fill="#7f7f7f"/><text x="147.50" y="228.01" font-size="7.8" fill="#222" text-anchor="middle" dominant-baseline="central">65</text><rect x="151.95" y="223.00" width="5.80" height="67.90" fill="#c0c0c0"/><text x="154.85" y="216.70" font-size="7.8" fill="#222" text-anchor="middle" dominant-baseline="central">78</text><text x="144.10" y="300.50" font-size="7.8" fill="#333" text-anchor="middle" dominant-baseline="central">2012</text><rect x="170.00" y="212.55" width="5.80" height="78.35" fill="#1f8b3c"/><text x="172.90" y="206.25" font-size="7.8" fill="#222" text-anchor="middle" dominant-baseline="central">90</text><rect x="177.35" y="225.61" width="5.80" height="65.29" fill="#4ea862"/><text x="180.25" y="219.31" font-size="7.8" fill="#222" text-anchor="middle" dominant-baseline="central">75</text><rect x="184.70" y="242.15" width="5.80" height="48.75" fill="#7f7f7f"/><text x="187.60" y="235.85" font-size="7.8" fill="#222" text-anchor="middle" dominant-baseline="central">56</text><rect x="192.05" y="231.70" width="5.80" height="59.20" fill="#c0c0c0"/><text x="194.95" y="225.40" font-size="7.8" fill="#222" text-anchor="middle" dominant-baseline="central">68</text><text x="184.20" y="300.50" font-size="7.8" fill="#333" text-anchor="middle" dominant-baseline="central">2014</text><rect x="210.10" y="203.84" width="5.80" height="87.06" fill="#1f8b3c"/><text x="213.00" y="197.54" font-size="7.8" fill="#222" text-anchor="middle" dominant-baseline="central">100</text><rect x="217.45" y="212.55" width="5.80" height="78.35" fill="#4ea862"/><text x="220.35" y="206.25" font-size="7.8" fill="#222" text-anchor="middle" dominant-baseline="central">90</text><rect x="224.80" y="250.85" width="5.80" height="40.05" fill="#7f7f7f"/><text x="227.70" y="244.55" font-size="7.8" fill="#222" text-anchor="middle" dominant-baseline="central">46</text><rect x="232.15" y="283.06" width="5.80" height="7.83" fill="#c0c0c0"/><text x="235.05" y="276.76" font-size="7.8" fill="#222" text-anchor="middle" dominant-baseline="central">9</text><text x="224.30" y="300.50" font-size="7.8" fill="#333" text-anchor="middle" dominant-baseline="central">2016</text><rect x="250.20" y="186.43" width="5.80" height="104.47" fill="#1f8b3c"/><text x="253.10" y="180.13" font-size="7.8" fill="#222" text-anchor="middle" dominant-baseline="central">120</text><rect x="257.55" y="221.26" width="5.80" height="69.64" fill="#4ea862"/><text x="260.45" y="214.96" font-size="7.8" fill="#222" text-anchor="middle" dominant-baseline="central">80</text><rect x="264.90" y="263.04" width="5.80" height="27.86" fill="#7f7f7f"/><text x="267.80" y="256.74" font-size="7.8" fill="#222" text-anchor="middle" dominant-baseline="central">32</text><rect x="272.25" y="270.01" width="5.80" height="20.89" fill="#c0c0c0"/><text x="275.15" y="263.71" font-size="7.8" fill="#222" text-anchor="middle" dominant-baseline="central">24</text><text x="264.40" y="300.50" font-size="7.8" fill="#333" text-anchor="middle" dominant-baseline="central">2018</text><rect x="290.30" y="195.14" width="5.80" height="95.76" fill="#1f8b3c"/><text x="293.20" y="188.84" font-size="7.8" fill="#222" text-anchor="middle" dominant-baseline="central">110</text><rect x="297.65" y="212.55" width="5.80" height="78.35" fill="#4ea862"/><text x="300.55" y="206.25" font-size="7.8" fill="#222" text-anchor="middle" dominant-baseline="central">90</text><rect x="305.00" y="243.89" width="5.80" height="47.01" fill="#7f7f7f"/><text x="307.90" y="237.59" font-size="7.8" fill="#222" text-anchor="middle" dominant-baseline="central">54</text><rect x="312.35" y="259.56" width="5.80" height="31.34" fill="#c0c0c0"/><text x="315.25" y="253.26" font-size="7.8" fill="#222" text-anchor="middle" dominant-baseline="central">36</text><text x="304.50" y="300.50" font-size="7.8" fill="#333" text-anchor="middle" dominant-baseline="central">2020</text><rect x="330.40" y="151.61" width="5.80" height="139.29" fill="#1f8b3c"/><text x="333.30" y="145.31" font-size="7.8" fill="#222" text-anchor="middle" dominant-baseline="central">160</text><rect x="337.75" y="207.33" width="5.80" height="83.57" fill="#4ea862"/><text x="340.65" y="201.03" font-size="7.8" fill="#222" text-anchor="middle" dominant-baseline="central">96</text><rect x="345.10" y="254.34" width="5.80" height="36.56" fill="#7f7f7f"/><text x="348.00" y="248.04" font-size="7.8" fill="#222" text-anchor="middle" dominant-baseline="central">42</text><rect x="352.45" y="244.76" width="5.80" height="46.14" fill="#c0c0c0"/><text x="355.35" y="238.46" font-size="7.8" fill="#222" text-anchor="middle" dominant-baseline="central">53</text><text x="344.60" y="300.50" font-size="7.8" fill="#333" text-anchor="middle" dominant-baseline="central">2022</text><rect x="370.50" y="160.32" width="5.80" height="130.58" fill="#1f8b3c"/><text x="373.40" y="154.02" font-size="7.8" fill="#222" text-anchor="middle" dominant-baseline="central">150</text><rect x="377.85" y="186.43" width="5.80" height="104.47" fill="#4ea862"/><text x="380.75" y="180.13" font-size="7.8" fill="#222" text-anchor="middle" dominant-baseline="central">120</text><rect x="385.20" y="259.56" width="5.80" height="31.34" fill="#7f7f7f"/><text x="388.10" y="253.26" font-size="7.8" fill="#222" text-anchor="middle" dominant-baseline="central">36</text><rect x="392.55" y="254.34" width="5.80" height="36.56" fill="#c0c0c0"/><text x="395.45" y="248.04" font-size="7.8" fill="#222" text-anchor="middle" dominant-baseline="central">42</text><text x="384.70" y="300.50" font-size="7.8" fill="#333" text-anchor="middle" dominant-baseline="central">2024</text><rect x="410.60" y="177.73" width="5.80" height="113.17" fill="#1f8b3c"/><text x="413.50" y="171.43" font-size="7.8" fill="#222" text-anchor="middle" dominant-baseline="central">130</text><rect x="417.95" y="195.14" width="5.80" height="95.76" fill="#4ea862"/><text x="420.85" y="188.84" font-size="7.8" fill="#222" text-anchor="middle" dominant-baseline="central">110</text><rect x="425.30" y="236.93" width="5.80" height="53.97" fill="#7f7f7f"/><text x="428.20" y="230.63" font-size="7.8" fill="#222" text-anchor="middle" dominant-baseline="central">62</text><rect x="432.65" y="263.04" width="5.80" height="27.86" fill="#c0c0c0"/><text x="435.55" y="256.74" font-size="7.8" fill="#222" text-anchor="middle" dominant-baseline="central">32</text><text x="424.80" y="300.50" font-size="7.8" fill="#333" text-anchor="middle" dominant-baseline="central">2026</text></svg><svg class="s" style="left:0px;top:740px" width="475" height="360" viewBox="0 0 475 360"><rect width="475" height="360" fill="#fff"/><g transform="translate(13.00,15.00) scale(0.4)"><circle r="17.6" fill="none" stroke="#444" stroke-width="0.7"/><circle r="15.2" fill="none" stroke="#333" stroke-width="1.6" stroke-dasharray="1.1 2.0" opacity="0.7"/><circle r="12.7" fill="none" stroke="#666" stroke-width="0.5"/><path d="M-9.6,1.3 A9.6,11.6 0 0 1 9.6,1.3 Z" fill="#e0201c"/><path d="M-9.3,2.4 L-0.6,2.4 L-0.6,6.8 L-6.8,6.8 Z M9.3,2.4 L0.6,2.4 L0.6,6.8 L6.8,6.8 Z" fill="#1e8a36"/><rect x="-2.5" y="8.4" width="5" height="1.2" fill="#999"/></g><line x1="26.00" y1="0.00" x2="26.00" y2="360.00" stroke="#f1f1f1" stroke-width="1"/><text transform="translate(13.6,180.5) rotate(-90)" font-size="5.9" fill="#333" text-anchor="middle" dominant-baseline="central">Business plan | <tspan font-weight="bold">商业计划书</tspan></text><text x="8.6" y="348.6" font-size="8.4" font-weight="bold" fill="#111" dominant-baseline="central" font-family="'Liberation Serif',serif">46</text><text x="459.00" y="349.30" font-size="5.6" fill="#6a6a6a" text-anchor="end" textLength="106.5" lengthAdjust="spacingAndGlyphs" dominant-baseline="central">www.pptgenius.com | 内部资料 禁止外传</text><text x="58.00" y="42.30" font-size="17.5" fill="#1a1a1a" dominant-baseline="central">饼图</text><text x="180.70" y="94.50" font-size="13.2" fill="#222" textLength="146.5" lengthAdjust="spacingAndGlyphs" dominant-baseline="central">柱状图数据图表分析工具</text><rect x="208.50" y="120.60" width="3.60" height="3.60" fill="#a5a5a5"/><text x="213.30" y="122.60" font-size="8.2" fill="#505050" dominant-baseline="central">分类3</text><rect x="245.80" y="120.60" width="3.60" height="3.60" fill="#5bb06d"/><text x="250.60" y="122.60" font-size="8.2" fill="#505050" dominant-baseline="central">分类2</text><rect x="283.10" y="120.60" width="3.60" height="3.60" fill="#1f8b3c"/><text x="287.90" y="122.60" font-size="8.2" fill="#505050" dominant-baseline="central">分类1</text><line x1="106.30" y1="139.00" x2="106.30" y2="291.70" stroke="#dcdcdc" stroke-width="0.6"/><text x="106.30" y="299.60" font-size="7.8" fill="#444" text-anchor="middle" dominant-baseline="central">0</text><line x1="151.96" y1="139.00" x2="151.96" y2="291.70" stroke="#dcdcdc" stroke-width="0.6"/><text x="151.96" y="299.60" font-size="7.8" fill="#444" text-anchor="middle" dominant-baseline="central">20</text><line x1="197.62" y1="139.00" x2="197.62" y2="291.70" stroke="#dcdcdc" stroke-width="0.6"/><text x="197.62" y="299.60" font-size="7.8" fill="#444" text-anchor="middle" dominant-baseline="central">40</text><line x1="243.28" y1="139.00" x2="243.28" y2="291.70" stroke="#dcdcdc" stroke-width="0.6"/><text x="243.28" y="299.60" font-size="7.8" fill="#444" text-anchor="middle" dominant-baseline="central">60</text><line x1="288.94" y1="139.00" x2="288.94" y2="291.70" stroke="#dcdcdc" stroke-width="0.6"/><text x="288.94" y="299.60" font-size="7.8" fill="#444" text-anchor="middle" dominant-baseline="central">80</text><line x1="334.60" y1="139.00" x2="334.60" y2="291.70" stroke="#dcdcdc" stroke-width="0.6"/><text x="334.60" y="299.60" font-size="7.8" fill="#444" text-anchor="middle" dominant-baseline="central">100</text><line x1="380.26" y1="139.00" x2="380.26" y2="291.70" stroke="#dcdcdc" stroke-width="0.6"/><text x="380.26" y="299.60" font-size="7.8" fill="#444" text-anchor="middle" dominant-baseline="central">120</text><line x1="425.92" y1="139.00" x2="425.92" y2="291.70" stroke="#dcdcdc" stroke-width="0.6"/><text x="425.92" y="299.60" font-size="7.8" fill="#444" text-anchor="middle" dominant-baseline="central">140</text><rect x="106.30" y="143.20" width="273.96" height="5.30" fill="#a5a5a5"/><text x="384.86" y="146.00" font-size="7.8" fill="#222" dominant-baseline="central">120</text><rect x="106.30" y="151.35" width="232.87" height="5.30" fill="#5bb06d"/><text x="343.77" y="154.15" font-size="7.8" fill="#222" dominant-baseline="central">102</text><rect x="106.30" y="159.50" width="182.64" height="5.30" fill="#1f8b3c"/><text x="293.54" y="162.30" font-size="7.8" fill="#222" dominant-baseline="central">80</text><text x="99.60" y="154.75" font-size="7.8" fill="#404040" text-anchor="end" dominant-baseline="central">数据5</text><rect x="106.30" y="174.00" width="175.79" height="5.30" fill="#a5a5a5"/><text x="286.69" y="176.80" font-size="7.8" fill="#222" dominant-baseline="central">77</text><rect x="106.30" y="182.15" width="223.73" height="5.30" fill="#5bb06d"/><text x="334.63" y="184.95" font-size="7.8" fill="#222" dominant-baseline="central">98</text><rect x="106.30" y="190.30" width="148.39" height="5.30" fill="#1f8b3c"/><text x="259.30" y="193.10" font-size="7.8" fill="#222" dominant-baseline="central">65</text><text x="99.60" y="185.55" font-size="7.8" fill="#404040" text-anchor="end" dominant-baseline="central">数据4</text><rect x="106.30" y="204.60" width="182.64" height="5.30" fill="#a5a5a5"/><text x="293.54" y="207.40" font-size="7.8" fill="#222" dominant-baseline="central">80</text><rect x="106.30" y="212.75" width="200.90" height="5.30" fill="#5bb06d"/><text x="311.80" y="215.55" font-size="7.8" fill="#222" dominant-baseline="central">88</text><rect x="106.30" y="220.90" width="155.24" height="5.30" fill="#1f8b3c"/><text x="266.14" y="223.70" font-size="7.8" fill="#222" dominant-baseline="central">68</text><text x="99.60" y="216.15" font-size="7.8" fill="#404040" text-anchor="end" dominant-baseline="central">数据3</text><rect x="106.30" y="235.00" width="148.39" height="5.30" fill="#a5a5a5"/><text x="259.30" y="237.80" font-size="7.8" fill="#222" dominant-baseline="central">65</text><rect x="106.30" y="243.15" width="216.88" height="5.30" fill="#5bb06d"/><text x="327.79" y="245.95" font-size="7.8" fill="#222" dominant-baseline="central">95</text><rect x="106.30" y="251.30" width="171.22" height="5.30" fill="#1f8b3c"/><text x="282.12" y="254.10" font-size="7.8" fill="#222" dominant-baseline="central">75</text><text x="99.60" y="246.55" font-size="7.8" fill="#404040" text-anchor="end" dominant-baseline="central">数据2</text><rect x="106.30" y="265.20" width="178.07" height="5.30" fill="#a5a5a5"/><text x="288.97" y="268.00" font-size="7.8" fill="#222" dominant-baseline="central">78</text><rect x="106.30" y="273.35" width="196.34" height="5.30" fill="#5bb06d"/><text x="307.24" y="276.15" font-size="7.8" fill="#222" dominant-baseline="central">86</text><rect x="106.30" y="281.50" width="182.64" height="5.30" fill="#1f8b3c"/><text x="293.54" y="284.30" font-size="7.8" fill="#222" dominant-baseline="central">80</text><text x="99.60" y="276.75" font-size="7.8" fill="#404040" text-anchor="end" dominant-baseline="central">数据1</text></svg><svg class="s" style="left:485px;top:740px" width="475" height="360" viewBox="0 0 475 360"><rect width="475" height="360" fill="#fff"/><g transform="translate(13.00,15.00) scale(0.4)"><circle r="17.6" fill="none" stroke="#444" stroke-width="0.7"/><circle r="15.2" fill="none" stroke="#333" stroke-width="1.6" stroke-dasharray="1.1 2.0" opacity="0.7"/><circle r="12.7" fill="none" stroke="#666" stroke-width="0.5"/><path d="M-9.6,1.3 A9.6,11.6 0 0 1 9.6,1.3 Z" fill="#e0201c"/><path d="M-9.3,2.4 L-0.6,2.4 L-0.6,6.8 L-6.8,6.8 Z M9.3,2.4 L0.6,2.4 L0.6,6.8 L6.8,6.8 Z" fill="#1e8a36"/><rect x="-2.5" y="8.4" width="5" height="1.2" fill="#999"/></g><line x1="26.00" y1="0.00" x2="26.00" y2="360.00" stroke="#f1f1f1" stroke-width="1"/><text transform="translate(13.6,180.5) rotate(-90)" font-size="5.9" fill="#333" text-anchor="middle" dominant-baseline="central">Business plan | <tspan font-weight="bold">商业计划书</tspan></text><text x="8.6" y="348.6" font-size="8.4" font-weight="bold" fill="#111" dominant-baseline="central" font-family="'Liberation Serif',serif">47</text><text x="459.00" y="349.30" font-size="5.6" fill="#6a6a6a" text-anchor="end" textLength="106.5" lengthAdjust="spacingAndGlyphs" dominant-baseline="central">www.pptgenius.com | 内部资料 禁止外传</text><text x="58.00" y="42.30" font-size="17.5" fill="#1a1a1a" dominant-baseline="central">折线图表</text><text x="106.90" y="111.80" font-size="13.2" fill="#222" textLength="118" lengthAdjust="spacingAndGlyphs" dominant-baseline="central">折线图数据分析工具</text><line x1="117.90" y1="142.20" x2="130.20" y2="142.20" stroke="#1e7a35" stroke-width="2"/><text x="131.00" y="142.20" font-size="7.0" fill="#222" textLength="19.4" lengthAdjust="spacingAndGlyphs" dominant-baseline="central">系列一</text><line x1="164.00" y1="142.20" x2="176.80" y2="142.20" stroke="#d9d9d9" stroke-width="2"/><text x="178.60" y="142.20" font-size="7.0" fill="#222" textLength="18.8" lengthAdjust="spacingAndGlyphs" dominant-baseline="central">系列二</text><line x1="74.80" y1="263.50" x2="252.40" y2="263.50" stroke="#ececec" stroke-width="0.6"/><text x="67.90" y="263.50" font-size="7.2" fill="#222" text-anchor="end" dominant-baseline="central">0</text><line x1="74.80" y1="241.86" x2="252.40" y2="241.86" stroke="#ececec" stroke-width="0.6"/><text x="67.90" y="241.86" font-size="7.2" fill="#222" text-anchor="end" dominant-baseline="central">50</text><line x1="74.80" y1="220.22" x2="252.40" y2="220.22" stroke="#ececec" stroke-width="0.6"/><text x="67.90" y="220.22" font-size="7.2" fill="#222" text-anchor="end" dominant-baseline="central">100</text><line x1="74.80" y1="198.58" x2="252.40" y2="198.58" stroke="#ececec" stroke-width="0.6"/><text x="67.90" y="198.58" font-size="7.2" fill="#222" text-anchor="end" dominant-baseline="central">150</text><line x1="74.80" y1="176.94" x2="252.40" y2="176.94" stroke="#ececec" stroke-width="0.6"/><text x="67.90" y="176.94" font-size="7.2" fill="#222" text-anchor="end" dominant-baseline="central">200</text><line x1="74.80" y1="155.30" x2="252.40" y2="155.30" stroke="#ececec" stroke-width="0.6"/><text x="67.90" y="155.30" font-size="7.2" fill="#222" text-anchor="end" dominant-baseline="central">250</text><line x1="74.80" y1="155.30" x2="74.80" y2="263.50" stroke="#f0f0f0" stroke-width="0.6"/><line x1="97.00" y1="155.30" x2="97.00" y2="263.50" stroke="#f0f0f0" stroke-width="0.6"/><line x1="119.20" y1="155.30" x2="119.20" y2="263.50" stroke="#f0f0f0" stroke-width="0.6"/><line x1="141.40" y1="155.30" x2="141.40" y2="263.50" stroke="#f0f0f0" stroke-width="0.6"/><line x1="163.60" y1="155.30" x2="163.60" y2="263.50" stroke="#f0f0f0" stroke-width="0.6"/><line x1="185.80" y1="155.30" x2="185.80" y2="263.50" stroke="#f0f0f0" stroke-width="0.6"/><line x1="208.00" y1="155.30" x2="208.00" y2="263.50" stroke="#f0f0f0" stroke-width="0.6"/><line x1="230.20" y1="155.30" x2="230.20" y2="263.50" stroke="#f0f0f0" stroke-width="0.6"/><line x1="252.40" y1="155.30" x2="252.40" y2="263.50" stroke="#f0f0f0" stroke-width="0.6"/><path d="M85.10,263.50 C88.81,259.89 99.94,256.29 107.36,241.86 C114.78,227.43 122.20,174.05 129.62,176.94 C137.04,179.83 144.46,250.52 151.88,259.17 C159.30,267.83 166.72,233.20 174.14,228.88 C181.56,224.55 188.98,240.78 196.40,233.20 C203.82,225.63 211.24,192.09 218.66,183.43 C226.08,174.78 237.21,181.63 240.92,181.27" fill="none" stroke="#d9d9d9" stroke-width="2.2"/><path d="M85.10,241.86 C88.81,239.70 99.94,227.43 107.36,228.88 C114.78,230.32 122.20,251.24 129.62,250.52 C137.04,249.79 144.46,225.27 151.88,224.55 C159.30,223.83 166.72,248.35 174.14,246.19 C181.56,244.02 188.98,211.92 196.40,211.56 C203.82,211.20 211.24,241.14 218.66,244.02 C226.08,246.91 237.21,231.40 240.92,228.88" fill="none" stroke="#ffffff" stroke-width="4.2"/><path d="M85.10,241.86 C88.81,239.70 99.94,227.43 107.36,228.88 C114.78,230.32 122.20,251.24 129.62,250.52 C137.04,249.79 144.46,225.27 151.88,224.55 C159.30,223.83 166.72,248.35 174.14,246.19 C181.56,244.02 188.98,211.92 196.40,211.56 C203.82,211.20 211.24,241.14 218.66,244.02 C226.08,246.91 237.21,231.40 240.92,228.88" fill="none" stroke="#1e7a35" stroke-width="2.2"/><text x="85.10" y="273.30" font-size="7.2" fill="#222" text-anchor="middle" textLength="18.8" lengthAdjust="spacingAndGlyphs" dominant-baseline="central">数据1</text><text x="107.36" y="273.30" font-size="7.2" fill="#222" text-anchor="middle" textLength="18.8" lengthAdjust="spacingAndGlyphs" dominant-baseline="central">数据2</text><text x="129.62" y="273.30" font-size="7.2" fill="#222" text-anchor="middle" textLength="18.8" lengthAdjust="spacingAndGlyphs" dominant-baseline="central">数据3</text><text x="151.88" y="273.30" font-size="7.2" fill="#222" text-anchor="middle" textLength="18.8" lengthAdjust="spacingAndGlyphs" dominant-baseline="central">数据4</text><text x="174.14" y="273.30" font-size="7.2" fill="#222" text-anchor="middle" textLength="18.8" lengthAdjust="spacingAndGlyphs" dominant-baseline="central">数据5</text><text x="196.40" y="273.30" font-size="7.2" fill="#222" text-anchor="middle" textLength="18.8" lengthAdjust="spacingAndGlyphs" dominant-baseline="central">数据6</text><text x="218.66" y="273.30" font-size="7.2" fill="#222" text-anchor="middle" textLength="18.8" lengthAdjust="spacingAndGlyphs" dominant-baseline="central">数据7</text><text x="240.92" y="273.30" font-size="7.2" fill="#222" text-anchor="middle" textLength="18.8" lengthAdjust="spacingAndGlyphs" dominant-baseline="central">数据8</text><text x="311.80" y="108.30" font-size="13.2" fill="#222" textLength="118.5" lengthAdjust="spacingAndGlyphs" dominant-baseline="central">折线图数据分析工具</text><line x1="324.90" y1="140.00" x2="339.80" y2="140.00" stroke="#1e7a35" stroke-width="2"/><circle cx="332.3" cy="140" r="2.6" fill="#1f8b3c"/><text x="340.20" y="140.00" font-size="7.0" fill="#222" textLength="19.1" lengthAdjust="spacingAndGlyphs" dominant-baseline="central">系列一</text><line x1="370.70" y1="140.00" x2="383.30" y2="140.00" stroke="#d9d9d9" stroke-width="2"/><circle cx="377" cy="140" r="2.2" fill="#dcdcdc"/><text x="385.20" y="140.00" font-size="7.0" fill="#222" textLength="19.9" lengthAdjust="spacingAndGlyphs" dominant-baseline="central">系列二</text><line x1="283.60" y1="263.50" x2="462.40" y2="263.50" stroke="#ececec" stroke-width="0.6"/><text x="277.90" y="263.50" font-size="7.2" fill="#222" text-anchor="end" dominant-baseline="central">0</text><line x1="283.60" y1="242.46" x2="462.40" y2="242.46" stroke="#ececec" stroke-width="0.6"/><text x="277.90" y="242.46" font-size="7.2" fill="#222" text-anchor="end" dominant-baseline="central">50</text><line x1="283.60" y1="221.42" x2="462.40" y2="221.42" stroke="#ececec" stroke-width="0.6"/><text x="277.90" y="221.42" font-size="7.2" fill="#222" text-anchor="end" dominant-baseline="central">100</text><line x1="283.60" y1="200.38" x2="462.40" y2="200.38" stroke="#ececec" stroke-width="0.6"/><text x="277.90" y="200.38" font-size="7.2" fill="#222" text-anchor="end" dominant-baseline="central">150</text><line x1="283.60" y1="179.34" x2="462.40" y2="179.34" stroke="#ececec" stroke-width="0.6"/><text x="277.90" y="179.34" font-size="7.2" fill="#222" text-anchor="end" dominant-baseline="central">200</text><line x1="283.60" y1="158.30" x2="462.40" y2="158.30" stroke="#ececec" stroke-width="0.6"/><text x="277.90" y="158.30" font-size="7.2" fill="#222" text-anchor="end" dominant-baseline="central">250</text><line x1="283.60" y1="158.30" x2="283.60" y2="263.50" stroke="#f0f0f0" stroke-width="0.6"/><line x1="305.95" y1="158.30" x2="305.95" y2="263.50" stroke="#f0f0f0" stroke-width="0.6"/><line x1="328.30" y1="158.30" x2="328.30" y2="263.50" stroke="#f0f0f0" stroke-width="0.6"/><line x1="350.65" y1="158.30" x2="350.65" y2="263.50" stroke="#f0f0f0" stroke-width="0.6"/><line x1="373.00" y1="158.30" x2="373.00" y2="263.50" stroke="#f0f0f0" stroke-width="0.6"/><line x1="395.35" y1="158.30" x2="395.35" y2="263.50" stroke="#f0f0f0" stroke-width="0.6"/><line x1="417.70" y1="158.30" x2="417.70" y2="263.50" stroke="#f0f0f0" stroke-width="0.6"/><line x1="440.05" y1="158.30" x2="440.05" y2="263.50" stroke="#f0f0f0" stroke-width="0.6"/><line x1="462.40" y1="158.30" x2="462.40" y2="263.50" stroke="#f0f0f0" stroke-width="0.6"/><path d="M295.10,263.50 C298.80,259.99 309.90,256.49 317.30,242.46 C324.70,228.43 332.10,176.53 339.50,179.34 C346.90,182.15 354.30,250.88 361.70,259.29 C369.10,267.71 376.50,234.04 383.90,229.84 C391.30,225.63 398.70,241.06 406.10,234.04 C413.50,227.03 420.90,196.17 428.30,187.76 C435.70,179.34 446.80,184.25 450.50,183.55" fill="none" stroke="#d9d9d9" stroke-width="2.2"/><circle cx="295.10" cy="263.50" r="2.2" fill="#dcdcdc"/><circle cx="317.30" cy="242.46" r="2.2" fill="#dcdcdc"/><circle cx="339.50" cy="179.34" r="2.2" fill="#dcdcdc"/><circle cx="361.70" cy="259.29" r="2.2" fill="#dcdcdc"/><circle cx="383.90" cy="229.84" r="2.2" fill="#dcdcdc"/><circle cx="406.10" cy="234.04" r="2.2" fill="#dcdcdc"/><circle cx="428.30" cy="187.76" r="2.2" fill="#dcdcdc"/><circle cx="450.50" cy="183.55" r="2.2" fill="#dcdcdc"/><path d="M295.10,242.46 C298.80,240.36 309.90,228.43 317.30,229.84 C324.70,231.24 332.10,251.58 339.50,250.88 C346.90,250.17 354.30,226.33 361.70,225.63 C369.10,224.93 376.50,247.37 383.90,246.67 C391.30,245.97 398.70,221.77 406.10,221.42 C413.50,221.07 420.90,243.16 428.30,244.56 C435.70,245.97 446.80,232.29 450.50,229.84" fill="none" stroke="#ffffff" stroke-width="4.2"/><path d="M295.10,242.46 C298.80,240.36 309.90,228.43 317.30,229.84 C324.70,231.24 332.10,251.58 339.50,250.88 C346.90,250.17 354.30,226.33 361.70,225.63 C369.10,224.93 376.50,247.37 383.90,246.67 C391.30,245.97 398.70,221.77 406.10,221.42 C413.50,221.07 420.90,243.16 428.30,244.56 C435.70,245.97 446.80,232.29 450.50,229.84" fill="none" stroke="#1e7a35" stroke-width="2.2"/><circle cx="295.10" cy="242.46" r="3.0" fill="#1f8b3c"/><circle cx="317.30" cy="229.84" r="3.0" fill="#1f8b3c"/><circle cx="339.50" cy="250.88" r="3.0" fill="#1f8b3c"/><circle cx="361.70" cy="225.63" r="3.0" fill="#1f8b3c"/><circle cx="383.90" cy="246.67" r="3.0" fill="#1f8b3c"/><circle cx="406.10" cy="221.42" r="3.0" fill="#1f8b3c"/><circle cx="428.30" cy="244.56" r="3.0" fill="#1f8b3c"/><circle cx="450.50" cy="229.84" r="3.0" fill="#1f8b3c"/><text x="295.10" y="273.30" font-size="7.2" fill="#222" text-anchor="middle" textLength="18.8" lengthAdjust="spacingAndGlyphs" dominant-baseline="central">数据1</text><text x="317.30" y="273.30" font-size="7.2" fill="#222" text-anchor="middle" textLength="18.8" lengthAdjust="spacingAndGlyphs" dominant-baseline="central">数据2</text><text x="339.50" y="273.30" font-size="7.2" fill="#222" text-anchor="middle" textLength="18.8" lengthAdjust="spacingAndGlyphs" dominant-baseline="central">数据3</text><text x="361.70" y="273.30" font-size="7.2" fill="#222" text-anchor="middle" textLength="18.8" lengthAdjust="spacingAndGlyphs" dominant-baseline="central">数据4</text><text x="383.90" y="273.30" font-size="7.2" fill="#222" text-anchor="middle" textLength="18.8" lengthAdjust="spacingAndGlyphs" dominant-baseline="central">数据5</text><text x="406.10" y="273.30" font-size="7.2" fill="#222" text-anchor="middle" textLength="18.8" lengthAdjust="spacingAndGlyphs" dominant-baseline="central">数据6</text><text x="428.30" y="273.30" font-size="7.2" fill="#222" text-anchor="middle" textLength="18.8" lengthAdjust="spacingAndGlyphs" dominant-baseline="central">数据7</text><text x="450.50" y="273.30" font-size="7.2" fill="#222" text-anchor="middle" textLength="18.8" lengthAdjust="spacingAndGlyphs" dominant-baseline="central">数据8</text></svg><svg class="s" style="left:0px;top:1110px" width="475" height="360" viewBox="0 0 475 360"><rect width="475" height="360" fill="#fff"/><g transform="translate(13.00,15.00) scale(0.4)"><circle r="17.6" fill="none" stroke="#444" stroke-width="0.7"/><circle r="15.2" fill="none" stroke="#333" stroke-width="1.6" stroke-dasharray="1.1 2.0" opacity="0.7"/><circle r="12.7" fill="none" stroke="#666" stroke-width="0.5"/><path d="M-9.6,1.3 A9.6,11.6 0 0 1 9.6,1.3 Z" fill="#e0201c"/><path d="M-9.3,2.4 L-0.6,2.4 L-0.6,6.8 L-6.8,6.8 Z M9.3,2.4 L0.6,2.4 L0.6,6.8 L6.8,6.8 Z" fill="#1e8a36"/><rect x="-2.5" y="8.4" width="5" height="1.2" fill="#999"/></g><line x1="26.00" y1="0.00" x2="26.00" y2="360.00" stroke="#f1f1f1" stroke-width="1"/><text transform="translate(13.6,180.5) rotate(-90)" font-size="5.9" fill="#333" text-anchor="middle" dominant-baseline="central">Business plan | <tspan font-weight="bold">商业计划书</tspan></text><text x="8.6" y="348.6" font-size="8.4" font-weight="bold" fill="#111" dominant-baseline="central" font-family="'Liberation Serif',serif">48</text><text x="459.00" y="349.30" font-size="5.6" fill="#6a6a6a" text-anchor="end" textLength="106.5" lengthAdjust="spacingAndGlyphs" dominant-baseline="central">www.pptgenius.com | 内部资料 禁止外传</text><text x="58.00" y="42.30" font-size="17.5" fill="#1a1a1a" dominant-baseline="central">饼图</text><text x="88.90" y="105.20" font-size="13.2" fill="#222" textLength="105.1" lengthAdjust="spacingAndGlyphs" dominant-baseline="central">比例数据对比图表</text><rect x="64.20" y="125.40" width="3.20" height="3.20" fill="#1f8b3c"/><text x="68.80" y="127.00" font-size="7.6" fill="#595959" textLength="20.5" lengthAdjust="spacingAndGlyphs" dominant-baseline="central">分类1</text><rect x="96.80" y="125.40" width="3.20" height="3.20" fill="#35984e"/><text x="101.40" y="127.00" font-size="7.6" fill="#595959" textLength="20.5" lengthAdjust="spacingAndGlyphs" dominant-baseline="central">分类2</text><rect x="129.40" y="125.40" width="3.20" height="3.20" fill="#4ea464"/><text x="134.00" y="127.00" font-size="7.6" fill="#595959" textLength="20.5" lengthAdjust="spacingAndGlyphs" dominant-baseline="central">分类3</text><rect x="162.00" y="125.40" width="3.20" height="3.20" fill="#64b178"/><text x="166.60" y="127.00" font-size="7.6" fill="#595959" textLength="20.5" lengthAdjust="spacingAndGlyphs" dominant-baseline="central">分类4</text><rect x="194.60" y="125.40" width="3.20" height="3.20" fill="#7cbd8d"/><text x="199.20" y="127.00" font-size="7.6" fill="#595959" textLength="20.5" lengthAdjust="spacingAndGlyphs" dominant-baseline="central">分类5</text><path d="M144.70,147.70 A66.2,66.2 0 0 1 171.07,274.62 L144.70,213.90 Z" fill="#1f8b3c" stroke="#fff" stroke-width="1.3" stroke-linejoin="round"/><path d="M171.07,274.62 A66.2,66.2 0 0 1 82.32,236.07 L144.70,213.90 Z" fill="#35984e" stroke="#fff" stroke-width="1.3" stroke-linejoin="round"/><path d="M82.32,236.07 A66.2,66.2 0 0 1 91.68,174.26 L144.70,213.90 Z" fill="#4ea464" stroke="#fff" stroke-width="1.3" stroke-linejoin="round"/><path d="M91.68,174.26 A66.2,66.2 0 0 1 126.84,150.15 L144.70,213.90 Z" fill="#64b178" stroke="#fff" stroke-width="1.3" stroke-linejoin="round"/><path d="M126.84,150.15 A66.2,66.2 0 0 1 144.70,147.70 L144.70,213.90 Z" fill="#7cbd8d" stroke="#fff" stroke-width="1.3" stroke-linejoin="round"/><text x="177.50" y="208.60" font-size="9.2" fill="#fff" text-anchor="middle" font-weight="bold" dominant-baseline="central">50</text><text x="131.40" y="246.30" font-size="9.2" fill="#fff" text-anchor="middle" font-weight="bold" dominant-baseline="central">30</text><text x="112.30" y="210.80" font-size="9.2" fill="#fff" text-anchor="middle" font-weight="bold" dominant-baseline="central">18</text><text x="126.60" y="187.60" font-size="9.2" fill="#fff" text-anchor="middle" font-weight="bold" dominant-baseline="central">12</text><text x="140.10" y="182.40" font-size="9.2" fill="#fff" text-anchor="middle" font-weight="bold" dominant-baseline="central">5</text><line x1="250.00" y1="100.00" x2="250.00" y2="280.00" stroke="#f3f3f3" stroke-width="1"/><text x="289.50" y="105.20" font-size="13.2" fill="#222" textLength="132.4" lengthAdjust="spacingAndGlyphs" dominant-baseline="central">数据比例数据对比图表</text><rect x="279.70" y="125.40" width="3.20" height="3.20" fill="#1f8b3c"/><text x="284.30" y="127.00" font-size="7.6" fill="#595959" textLength="20.5" lengthAdjust="spacingAndGlyphs" dominant-baseline="central">分类1</text><rect x="311.10" y="125.40" width="3.20" height="3.20" fill="#35984e"/><text x="315.70" y="127.00" font-size="7.6" fill="#595959" textLength="20.5" lengthAdjust="spacingAndGlyphs" dominant-baseline="central">分类2</text><rect x="342.50" y="125.40" width="3.20" height="3.20" fill="#4ea464"/><text x="347.10" y="127.00" font-size="7.6" fill="#595959" textLength="20.5" lengthAdjust="spacingAndGlyphs" dominant-baseline="central">分类3</text><rect x="373.90" y="125.40" width="3.20" height="3.20" fill="#64b178"/><text x="378.50" y="127.00" font-size="7.6" fill="#595959" textLength="20.5" lengthAdjust="spacingAndGlyphs" dominant-baseline="central">分类4</text><rect x="405.30" y="125.40" width="3.20" height="3.20" fill="#7cbd8d"/><text x="409.90" y="127.00" font-size="7.6" fill="#595959" textLength="20.5" lengthAdjust="spacingAndGlyphs" dominant-baseline="central">分类5</text><path d="M359.50,146.70 A65.7,65.7 0 0 1 385.67,272.66 L378.15,255.33 A46.8,46.8 0 0 0 359.50,165.60 Z" fill="#1f8b3c" stroke="#fff" stroke-width="1"/><path d="M385.67,272.66 A65.7,65.7 0 0 1 297.59,234.40 L315.40,228.07 A46.8,46.8 0 0 0 378.15,255.33 Z" fill="#35984e" stroke="#fff" stroke-width="1"/><path d="M297.59,234.40 A65.7,65.7 0 0 1 306.88,173.06 L322.02,184.38 A46.8,46.8 0 0 0 315.40,228.07 Z" fill="#4ea464" stroke="#fff" stroke-width="1"/><path d="M306.88,173.06 A65.7,65.7 0 0 1 341.77,149.14 L346.87,167.34 A46.8,46.8 0 0 0 322.02,184.38 Z" fill="#64b178" stroke="#fff" stroke-width="1"/><path d="M341.77,149.14 A65.7,65.7 0 0 1 359.50,146.70 L359.50,165.60 A46.8,46.8 0 0 0 346.87,167.34 Z" fill="#7cbd8d" stroke="#fff" stroke-width="1"/><text x="414.90" y="201.40" font-size="9.4" fill="#fff" text-anchor="middle" font-weight="bold" dominant-baseline="central">50</text><text x="337.70" y="265.50" font-size="9.4" fill="#fff" text-anchor="middle" font-weight="bold" dominant-baseline="central">30</text><text x="303.75" y="204.30" font-size="9.4" fill="#fff" text-anchor="middle" font-weight="bold" dominant-baseline="central">18</text><text x="327.80" y="165.30" font-size="9.4" fill="#fff" text-anchor="middle" font-weight="bold" dominant-baseline="central">12</text><text x="351.90" y="156.60" font-size="9.4" fill="#fff" text-anchor="middle" font-weight="bold" dominant-baseline="central">5</text><g transform="translate(359.50,212.40)"><path d="M-16.8,-18.7 H-2.2 M-16.8,-18.7 V-6.3 H-9.3 L-8.2,-3.4 L-7.3,-6.3 H-3.0" fill="none" stroke="#1b6e34" stroke-width="1"/><line x1="-14" y1="-14.6" x2="-4.8" y2="-14.6" stroke="#1b6e34" stroke-width="0.9"/><line x1="-14" y1="-12.0" x2="-4.8" y2="-12.0" stroke="#1b6e34" stroke-width="0.9"/><line x1="-14" y1="-9.9" x2="-4.8" y2="-9.9" stroke="#1b6e34" stroke-width="0.9"/><path d="M-2.6,-11 C-3,-16 0,-18.8 3.6,-18.6 C7.5,-18.4 10.2,-15.8 9.8,-11 C9.6,-6 6.6,-1.4 3.6,-1.2 C0.6,-1.4 -2.4,-5.8 -2.6,-11 Z" fill="#fff" stroke="#1f8b3c" stroke-width="1"/><path d="M-2.8,-11.2 C-3.2,-16.5 0,-18.9 3.8,-18.8 C8,-18.6 10.4,-16 9.9,-11.2 C8.6,-14.2 6.5,-13.8 4.4,-15.2 C2.6,-13.2 0,-12.6 -2.8,-11.2 Z" fill="#1f8b3c"/><path d="M-10.5,10.8 C-10.6,4.2 -8,1.6 -1.6,-0.4 L3.6,6.5 L8.8,-0.4 C15.2,1.6 17.6,4.2 17.4,10.8 Z" fill="#1f8b3c"/><path d="M2.6,0.6 L4.6,0.6 L4.2,2.6 L5.0,7.0 L3.6,8.4 L2.2,7.0 L3.0,2.6 Z" fill="#1f8b3c"/><rect x="10.5" y="3.6" width="3.4" height="1.2" fill="#cfe8d5"/></g></svg><svg class="s" style="left:485px;top:1110px" width="475" height="360" viewBox="0 0 475 360"><rect width="475" height="360" fill="#fff"/><g transform="translate(13.00,15.00) scale(0.4)"><circle r="17.6" fill="none" stroke="#444" stroke-width="0.7"/><circle r="15.2" fill="none" stroke="#333" stroke-width="1.6" stroke-dasharray="1.1 2.0" opacity="0.7"/><circle r="12.7" fill="none" stroke="#666" stroke-width="0.5"/><path d="M-9.6,1.3 A9.6,11.6 0 0 1 9.6,1.3 Z" fill="#e0201c"/><path d="M-9.3,2.4 L-0.6,2.4 L-0.6,6.8 L-6.8,6.8 Z M9.3,2.4 L0.6,2.4 L0.6,6.8 L6.8,6.8 Z" fill="#1e8a36"/><rect x="-2.5" y="8.4" width="5" height="1.2" fill="#999"/></g><line x1="26.00" y1="0.00" x2="26.00" y2="360.00" stroke="#f1f1f1" stroke-width="1"/><text transform="translate(13.6,180.5) rotate(-90)" font-size="5.9" fill="#333" text-anchor="middle" dominant-baseline="central">Business plan | <tspan font-weight="bold">商业计划书</tspan></text><text x="8.6" y="348.6" font-size="8.4" font-weight="bold" fill="#111" dominant-baseline="central" font-family="'Liberation Serif',serif">49</text><text x="459.00" y="349.30" font-size="5.6" fill="#6a6a6a" text-anchor="end" textLength="106.5" lengthAdjust="spacingAndGlyphs" dominant-baseline="central">www.pptgenius.com | 内部资料 禁止外传</text><text x="58.00" y="42.30" font-size="17.5" fill="#1a1a1a" dominant-baseline="central">饼图</text><text x="118.60" y="97.00" font-size="13.2" fill="#222" text-anchor="middle" textLength="79.1" lengthAdjust="spacingAndGlyphs" dominant-baseline="central">输入你的标题</text><rect x="108.30" y="114.20" width="3.20" height="3.20" fill="#1f8b3c"/><text x="113.20" y="115.80" font-size="7.6" fill="#595959" textLength="19.5" lengthAdjust="spacingAndGlyphs" dominant-baseline="central">分类1</text><path d="M166.42,175.90 A46.6,46.6 0 1 1 122.10,143.70 L122.10,166.10 A24.2,24.2 0 1 0 145.12,182.82 Z" fill="#d9d9d9" stroke="#fff" stroke-width="1"/><path d="M122.10,143.70 A46.6,46.6 0 0 1 166.42,175.90 L145.12,182.82 A24.2,24.2 0 0 0 122.10,166.10 Z" fill="#1f8b3c" stroke="#fff" stroke-width="1"/><text x="142.80" y="161.70" font-size="9.5" fill="#fff" text-anchor="middle" font-weight="bold" dominant-baseline="central">20</text><text x="100.80" y="220.10" font-size="9.5" fill="#222" text-anchor="middle" font-weight="bold" dominant-baseline="central">80</text><g transform="translate(122.10,190.30)" fill="#1f8b3c"><circle cx="-6.80" cy="-10.9" r="2.6"/><path d="M-10.70,-5.4 Q-10.70,-7.4 -8.80,-7.4 L-7.40,-7.4 L-6.80,-4.4 L-6.20,-7.4 L-4.80,-7.4 Q-2.90,-7.4 -2.90,-5.4 L-2.90,2.2 L-4.40,2.6 L-4.50,10.6 L-6.55,10.6 L-6.60,4 L-7.00,4 L-7.05,10.6 L-9.10,10.6 L-9.20,2.6 L-10.70,2.2 Z"/><circle cx="0.20" cy="-10.9" r="2.6"/><path d="M-3.70,-5.4 Q-3.70,-7.4 -1.80,-7.4 L-0.40,-7.4 L0.20,-4.4 L0.80,-7.4 L2.20,-7.4 Q4.10,-7.4 4.10,-5.4 L4.10,2.2 L2.60,2.6 L2.50,10.6 L0.45,10.6 L0.40,4 L0.00,4 L-0.05,10.6 L-2.10,10.6 L-2.20,2.6 L-3.70,2.2 Z"/><circle cx="7.20" cy="-10.9" r="2.6"/><path d="M3.30,-5.4 Q3.30,-7.4 5.20,-7.4 L6.60,-7.4 L7.20,-4.4 L7.80,-7.4 L9.20,-7.4 Q11.10,-7.4 11.10,-5.4 L11.10,2.2 L9.60,2.6 L9.50,10.6 L7.45,10.6 L7.40,4 L7.00,4 L6.95,10.6 L4.90,10.6 L4.80,2.6 L3.30,2.2 Z"/><path d="M-9.30,-4.5 L-9.30,2.4 M-4.30,-4.5 L-4.30,2.4" stroke="#fff" stroke-width="0.45" fill="none"/><path d="M-2.30,-4.5 L-2.30,2.4 M2.70,-4.5 L2.70,2.4" stroke="#fff" stroke-width="0.45" fill="none"/><path d="M4.70,-4.5 L4.70,2.4 M9.70,-4.5 L9.70,2.4" stroke="#fff" stroke-width="0.45" fill="none"/></g><text x="252.60" y="97.00" font-size="13.2" fill="#222" text-anchor="middle" textLength="79.1" lengthAdjust="spacingAndGlyphs" dominant-baseline="central">输入你的标题</text><rect x="242.30" y="114.20" width="3.20" height="3.20" fill="#1f8b3c"/><text x="247.20" y="115.80" font-size="7.6" fill="#595959" textLength="19.5" lengthAdjust="spacingAndGlyphs" dominant-baseline="central">分类1</text><path d="M300.92,204.70 A46.6,46.6 0 1 1 256.60,143.70 L256.60,166.10 A24.2,24.2 0 1 0 279.62,197.78 Z" fill="#d9d9d9" stroke="#fff" stroke-width="1"/><path d="M256.60,143.70 A46.6,46.6 0 0 1 300.92,204.70 L279.62,197.78 A24.2,24.2 0 0 0 256.60,166.10 Z" fill="#1f8b3c" stroke="#fff" stroke-width="1"/><text x="284.80" y="169.00" font-size="9.5" fill="#fff" text-anchor="middle" font-weight="bold" dominant-baseline="central">30</text><text x="226.90" y="212.00" font-size="9.5" fill="#222" text-anchor="middle" font-weight="bold" dominant-baseline="central">70</text><g transform="translate(256.60,190.30)" fill="#1f8b3c"><circle cx="-6.80" cy="-10.9" r="2.6"/><path d="M-10.70,-5.4 Q-10.70,-7.4 -8.80,-7.4 L-7.40,-7.4 L-6.80,-4.4 L-6.20,-7.4 L-4.80,-7.4 Q-2.90,-7.4 -2.90,-5.4 L-2.90,2.2 L-4.40,2.6 L-4.50,10.6 L-6.55,10.6 L-6.60,4 L-7.00,4 L-7.05,10.6 L-9.10,10.6 L-9.20,2.6 L-10.70,2.2 Z"/><circle cx="0.20" cy="-10.9" r="2.6"/><path d="M-3.70,-5.4 Q-3.70,-7.4 -1.80,-7.4 L-0.40,-7.4 L0.20,-4.4 L0.80,-7.4 L2.20,-7.4 Q4.10,-7.4 4.10,-5.4 L4.10,2.2 L2.60,2.6 L2.50,10.6 L0.45,10.6 L0.40,4 L0.00,4 L-0.05,10.6 L-2.10,10.6 L-2.20,2.6 L-3.70,2.2 Z"/><circle cx="7.20" cy="-10.9" r="2.6"/><path d="M3.30,-5.4 Q3.30,-7.4 5.20,-7.4 L6.60,-7.4 L7.20,-4.4 L7.80,-7.4 L9.20,-7.4 Q11.10,-7.4 11.10,-5.4 L11.10,2.2 L9.60,2.6 L9.50,10.6 L7.45,10.6 L7.40,4 L7.00,4 L6.95,10.6 L4.90,10.6 L4.80,2.6 L3.30,2.2 Z"/><path d="M-9.30,-4.5 L-9.30,2.4 M-4.30,-4.5 L-4.30,2.4" stroke="#fff" stroke-width="0.45" fill="none"/><path d="M-2.30,-4.5 L-2.30,2.4 M2.70,-4.5 L2.70,2.4" stroke="#fff" stroke-width="0.45" fill="none"/><path d="M4.70,-4.5 L4.70,2.4 M9.70,-4.5 L9.70,2.4" stroke="#fff" stroke-width="0.45" fill="none"/></g><text x="387.40" y="97.00" font-size="13.2" fill="#222" text-anchor="middle" textLength="79.1" lengthAdjust="spacingAndGlyphs" dominant-baseline="central">输入你的标题</text><rect x="377.10" y="114.20" width="3.20" height="3.20" fill="#1f8b3c"/><text x="382.00" y="115.80" font-size="7.6" fill="#595959" textLength="19.5" lengthAdjust="spacingAndGlyphs" dominant-baseline="central">分类1</text><path d="M418.69,228.00 A46.6,46.6 0 1 1 391.30,143.70 L391.30,166.10 A24.2,24.2 0 1 0 405.52,209.88 Z" fill="#d9d9d9" stroke="#fff" stroke-width="1"/><path d="M391.30,143.70 A46.6,46.6 0 0 1 418.69,228.00 L405.52,209.88 A24.2,24.2 0 0 0 391.30,166.10 Z" fill="#1f8b3c" stroke="#fff" stroke-width="1"/><text x="424.60" y="179.50" font-size="9.5" fill="#fff" text-anchor="middle" font-weight="bold" dominant-baseline="central">40</text><text x="357.00" y="201.80" font-size="9.5" fill="#222" text-anchor="middle" font-weight="bold" dominant-baseline="central">60</text><g transform="translate(391.30,190.30)" fill="#1f8b3c"><circle cx="-6.80" cy="-10.9" r="2.6"/><path d="M-10.70,-5.4 Q-10.70,-7.4 -8.80,-7.4 L-7.40,-7.4 L-6.80,-4.4 L-6.20,-7.4 L-4.80,-7.4 Q-2.90,-7.4 -2.90,-5.4 L-2.90,2.2 L-4.40,2.6 L-4.50,10.6 L-6.55,10.6 L-6.60,4 L-7.00,4 L-7.05,10.6 L-9.10,10.6 L-9.20,2.6 L-10.70,2.2 Z"/><circle cx="0.20" cy="-10.9" r="2.6"/><path d="M-3.70,-5.4 Q-3.70,-7.4 -1.80,-7.4 L-0.40,-7.4 L0.20,-4.4 L0.80,-7.4 L2.20,-7.4 Q4.10,-7.4 4.10,-5.4 L4.10,2.2 L2.60,2.6 L2.50,10.6 L0.45,10.6 L0.40,4 L0.00,4 L-0.05,10.6 L-2.10,10.6 L-2.20,2.6 L-3.70,2.2 Z"/><circle cx="7.20" cy="-10.9" r="2.6"/><path d="M3.30,-5.4 Q3.30,-7.4 5.20,-7.4 L6.60,-7.4 L7.20,-4.4 L7.80,-7.4 L9.20,-7.4 Q11.10,-7.4 11.10,-5.4 L11.10,2.2 L9.60,2.6 L9.50,10.6 L7.45,10.6 L7.40,4 L7.00,4 L6.95,10.6 L4.90,10.6 L4.80,2.6 L3.30,2.2 Z"/><path d="M-9.30,-4.5 L-9.30,2.4 M-4.30,-4.5 L-4.30,2.4" stroke="#fff" stroke-width="0.45" fill="none"/><path d="M-2.30,-4.5 L-2.30,2.4 M2.70,-4.5 L2.70,2.4" stroke="#fff" stroke-width="0.45" fill="none"/><path d="M4.70,-4.5 L4.70,2.4 M9.70,-4.5 L9.70,2.4" stroke="#fff" stroke-width="0.45" fill="none"/></g><line x1="187.40" y1="122.70" x2="187.40" y2="235.00" stroke="#dadada" stroke-width="0.8"/><line x1="320.80" y1="122.70" x2="320.80" y2="235.00" stroke="#dadada" stroke-width="0.8"/><text x="186.80" y="267.00" font-size="13.2" fill="#1c8038" font-weight="bold" textLength="131.2" lengthAdjust="spacingAndGlyphs" dominant-baseline="central">点击此处添加结论文字</text><text x="155.80" y="286.50" font-size="9.3" fill="#333" textLength="193.2" lengthAdjust="spacingAndGlyphs" dominant-baseline="central">标题数字等都可以通过点击和重新输入进行更改</text></svg><svg class="s" style="left:0px;top:1480px" width="475" height="360" viewBox="0 0 475 360"><rect width="475" height="360" fill="#fff"/><g transform="translate(13.00,15.00) scale(0.4)"><circle r="17.6" fill="none" stroke="#444" stroke-width="0.7"/><circle r="15.2" fill="none" stroke="#333" stroke-width="1.6" stroke-dasharray="1.1 2.0" opacity="0.7"/><circle r="12.7" fill="none" stroke="#666" stroke-width="0.5"/><path d="M-9.6,1.3 A9.6,11.6 0 0 1 9.6,1.3 Z" fill="#e0201c"/><path d="M-9.3,2.4 L-0.6,2.4 L-0.6,6.8 L-6.8,6.8 Z M9.3,2.4 L0.6,2.4 L0.6,6.8 L6.8,6.8 Z" fill="#1e8a36"/><rect x="-2.5" y="8.4" width="5" height="1.2" fill="#999"/></g><line x1="26.00" y1="0.00" x2="26.00" y2="360.00" stroke="#f1f1f1" stroke-width="1"/><text transform="translate(13.6,180.5) rotate(-90)" font-size="5.9" fill="#333" text-anchor="middle" dominant-baseline="central">Business plan | <tspan font-weight="bold">商业计划书</tspan></text><text x="8.6" y="348.6" font-size="8.4" font-weight="bold" fill="#111" dominant-baseline="central" font-family="'Liberation Serif',serif">50</text><text x="459.00" y="349.30" font-size="5.6" fill="#6a6a6a" text-anchor="end" textLength="106.5" lengthAdjust="spacingAndGlyphs" dominant-baseline="central">www.pptgenius.com | 内部资料 禁止外传</text><text x="58.00" y="42.30" font-size="17.5" fill="#1a1a1a" dominant-baseline="central">饼图</text><path d="M154.2,121.2 L203.0,89.2 L203.0,214.2 L154.2,183.4 Z" fill="#e5f1e8"/><path d="M149.43,182.42 A47.5,47.5 0 1 1 149.43,126.58 L134.14,137.69 A28.6,28.6 0 1 0 134.14,171.31 Z" fill="#d9d9d9" stroke="#fff" stroke-width="1"/><path d="M149.43,126.58 A47.5,47.5 0 0 1 149.43,182.42 L134.14,171.31 A28.6,28.6 0 0 0 134.14,137.69 Z" fill="#1f8b3c" stroke="#fff" stroke-width="1"/><text x="147.70" y="153.30" font-size="9.2" fill="#fff" text-anchor="middle" font-weight="bold" dominant-baseline="central">20%</text><text x="72.50" y="155.60" font-size="9.2" fill="#222" text-anchor="middle" font-weight="bold" dominant-baseline="central">80%</text><g transform="translate(111.00,161.00)" fill="#cdcdcd"><circle cx="-0.5" cy="-9.5" r="4.2"/><path d="M-2.6,-9.8 L-1.0,-7.8 L1.8,-11.4" fill="none" stroke="#fff" stroke-width="1.1"/><circle cx="-9.7" cy="-9.9" r="2.6"/><circle cx="8.7" cy="-9.9" r="2.6"/><rect x="-12" y="-4.6" width="4.8" height="9.4" rx="1"/><rect x="6.3" y="-4.6" width="4.6" height="9.4" rx="1"/><rect x="-5.8" y="-2.9" width="9.8" height="0.8"/><rect x="-1.3" y="-2.9" width="0.8" height="11.6"/><rect x="-6.9" y="0.9" width="3.8" height="7.8"/><rect x="2.1" y="0.9" width="3.8" height="7.8"/></g><rect x="209.00" y="90.70" width="250.30" height="124.90" fill="#f2f2f2"/><text x="260.50" y="108.10" font-size="13.2" fill="#222" textLength="144.8" lengthAdjust="spacingAndGlyphs" dominant-baseline="central">柱状图数据图表分析工具</text><rect x="256.20" y="126.40" width="146.80" height="8.30" fill="#1f8b3c"/><text x="249.20" y="130.60" font-size="7.8" fill="#333" text-anchor="end" textLength="21.2" lengthAdjust="spacingAndGlyphs" dominant-baseline="central">数据5</text><text x="406.70" y="130.60" font-size="8.0" fill="#333" dominant-baseline="central">80</text><rect x="256.20" y="143.30" width="119.27" height="8.30" fill="#1f8b3c"/><text x="249.20" y="147.50" font-size="7.8" fill="#333" text-anchor="end" textLength="21.2" lengthAdjust="spacingAndGlyphs" dominant-baseline="central">数据4</text><text x="379.17" y="147.50" font-size="8.0" fill="#333" dominant-baseline="central">65</text><rect x="256.20" y="159.30" width="124.78" height="8.30" fill="#1f8b3c"/><text x="249.20" y="163.50" font-size="7.8" fill="#333" text-anchor="end" textLength="21.2" lengthAdjust="spacingAndGlyphs" dominant-baseline="central">数据3</text><text x="384.68" y="163.50" font-size="8.0" fill="#333" dominant-baseline="central">68</text><rect x="256.20" y="175.30" width="137.62" height="8.30" fill="#1f8b3c"/><text x="249.20" y="179.50" font-size="7.8" fill="#333" text-anchor="end" textLength="21.2" lengthAdjust="spacingAndGlyphs" dominant-baseline="central">数据2</text><text x="397.52" y="179.50" font-size="8.0" fill="#333" dominant-baseline="central">75</text><rect x="256.20" y="191.40" width="146.80" height="8.30" fill="#1f8b3c"/><text x="249.20" y="195.60" font-size="7.8" fill="#333" text-anchor="end" textLength="21.2" lengthAdjust="spacingAndGlyphs" dominant-baseline="central">数据1</text><text x="406.70" y="195.60" font-size="8.0" fill="#333" dominant-baseline="central">80</text><text x="104.20" y="257.70" font-size="13.0" fill="#1c8038" font-weight="bold" textLength="131" lengthAdjust="spacingAndGlyphs" dominant-baseline="central">点击此处添加结论文字</text><text x="238.70" y="259.50" font-size="9.4" fill="#333" textLength="175.3" lengthAdjust="spacingAndGlyphs" dominant-baseline="central">，标题数字等都可以通过点击和重新输入进</text><text x="104.20" y="277.20" font-size="9.4" fill="#333" textLength="293.8" lengthAdjust="spacingAndGlyphs" dominant-baseline="central">行更改，顶部<tspan dx="3.95">“</tspan><tspan dx="2.35">开始</tspan><tspan dx="0.75">”</tspan><tspan dx="5.45">面板中可以对字体、字号、颜色、行距等进行修改</tspan></text></svg><svg class="s" style="left:485px;top:1480px" width="475" height="360" viewBox="0 0 475 360"><rect width="475" height="360" fill="#fff"/><defs>
<linearGradient id="bg51" x1="0" y1="0" x2="1" y2="0.35"><stop offset="0" stop-color="#e4e4e4"/><stop offset="0.5" stop-color="#ececec"/><stop offset="1" stop-color="#fbfbfb"/></linearGradient>
<radialGradient id="wh51" cx="0.66" cy="0.62" r="0.5"><stop offset="0" stop-color="#ffffff" stop-opacity="1"/><stop offset="0.55" stop-color="#ffffff" stop-opacity="0.8"/><stop offset="1" stop-color="#ffffff" stop-opacity="0"/></radialGradient>
<radialGradient id="wh51b" cx="0.95" cy="0.05" r="0.45"><stop offset="0" stop-color="#ffffff" stop-opacity="1"/><stop offset="0.5" stop-color="#ffffff" stop-opacity="0.8"/><stop offset="1" stop-color="#ffffff" stop-opacity="0"/></radialGradient>
<filter id="blur51" x="-0.1" y="-0.1" width="1.2" height="1.2"><feGaussianBlur stdDeviation="1.0"/></filter>
<radialGradient id="wh51c" cx="0.0" cy="0.0" r="0.3"><stop offset="0" stop-color="#ffffff" stop-opacity="0.9"/><stop offset="1" stop-color="#ffffff" stop-opacity="0"/></radialGradient>
<linearGradient id="gr51" x1="0" y1="0" x2="0.2" y2="1"><stop offset="0" stop-color="#33a04e"/><stop offset="1" stop-color="#23903f"/></linearGradient>
</defs><rect width="475" height="360" fill="url(#bg51)"/><g fill="none" stroke="#ffffff" filter="url(#blur51)"><path d="M250.0,-70.0 Q400.0,40.0 490.0,52.0" stroke-width="3.4" opacity="0.75"/><path d="M227.2,-67.2 Q383.9,54.4 479.4,69.9" stroke-width="2.4" opacity="0.75"/><path d="M204.4,-64.4 Q367.8,68.9 468.9,87.9" stroke-width="3.4" opacity="0.75"/><path d="M181.7,-61.7 Q351.7,83.3 458.3,105.8" stroke-width="2.4" opacity="0.75"/><path d="M158.9,-58.9 Q335.6,97.8 447.8,123.8" stroke-width="3.4" opacity="0.75"/><path d="M136.1,-56.1 Q319.4,112.2 437.2,141.7" stroke-width="2.4" opacity="0.75"/><path d="M113.3,-53.3 Q303.3,126.7 426.7,159.7" stroke-width="3.4" opacity="0.75"/><path d="M90.6,-50.6 Q287.2,141.1 416.1,177.6" stroke-width="2.4" opacity="0.75"/><path d="M67.8,-47.8 Q271.1,155.6 405.6,195.6" stroke-width="3.4" opacity="0.75"/><path d="M45.0,-45.0 Q255.0,170.0 395.0,213.5" stroke-width="2.4" opacity="0.75"/><path d="M22.2,-42.2 Q238.9,184.4 384.4,231.4" stroke-width="3.4" opacity="0.75"/><path d="M-0.6,-39.4 Q222.8,198.9 373.9,249.4" stroke-width="2.4" opacity="0.75"/><path d="M-23.3,-36.7 Q206.7,213.3 363.3,267.3" stroke-width="3.4" opacity="0.75"/><path d="M-46.1,-33.9 Q190.6,227.8 352.8,285.3" stroke-width="2.4" opacity="0.75"/><path d="M-68.9,-31.1 Q174.4,242.2 342.2,303.2" stroke-width="3.4" opacity="0.75"/><path d="M-91.7,-28.3 Q158.3,256.7 331.7,321.2" stroke-width="2.4" opacity="0.75"/><path d="M-114.4,-25.6 Q142.2,271.1 321.1,339.1" stroke-width="3.4" opacity="0.75"/><path d="M-137.2,-22.8 Q126.1,285.6 310.6,357.1" stroke-width="2.4" opacity="0.75"/><path d="M-160.0,-20.0 Q110.0,300.0 300.0,375.0" stroke-width="3.4" opacity="0.75"/></g><rect width="475" height="360" fill="url(#wh51)"/><rect width="475" height="360" fill="url(#wh51b)"/><rect width="475" height="360" fill="url(#wh51c)"/><path d="M0,200 C70,236 130,280 200,312 C250,333 290,342 320,345 C280,342 230,334 170,316 C110,298 60,262 0,236 Z" fill="#ffffff" opacity="0.7"/><path d="M0,242 C30,252 70,276 100,297 C130,316 170,330 215,335 C245,339 285,344 311,345 C295,350 275,355 260,360 L0,360 Z" fill="url(#gr51)"/><path d="M475,277 C440,297 400,309 346,329 C320,339 295,348 264,360 L475,360 Z" fill="#3a3a3a"/><g transform="translate(440.30,36.90) scale(1.0)"><circle r="18.2" fill="#fff"/><circle r="17.6" fill="none" stroke="#444" stroke-width="0.7"/><circle r="15.2" fill="none" stroke="#333" stroke-width="1.6" stroke-dasharray="1.1 2.0" opacity="0.7"/><circle r="12.7" fill="none" stroke="#666" stroke-width="0.5"/><path d="M-9.6,1.3 A9.6,11.6 0 0 1 9.6,1.3 Z" fill="#e0201c"/><path d="M-9.3,2.4 L-0.6,2.4 L-0.6,6.8 L-6.8,6.8 Z M9.3,2.4 L0.6,2.4 L0.6,6.8 L6.8,6.8 Z" fill="#1e8a36"/><rect x="-2.5" y="8.4" width="5" height="1.2" fill="#999"/></g><rect x="76.70" y="116.30" width="57.90" height="56.90" fill="#1f8b3c"/><text x="103.60" y="146.20" font-size="42" fill="#fff" text-anchor="middle" font-weight="bold" dominant-baseline="central">05</text><text x="151.00" y="136.00" font-size="31" fill="#1f8b3c" font-weight="bold" textLength="126.5" lengthAdjust="spacingAndGlyphs" dominant-baseline="central">行业分析</text><line x1="146.00" y1="163.30" x2="391.00" y2="163.30" stroke="#222" stroke-width="1.2"/><text x="151.00" y="183.20" font-size="12" fill="#333" textLength="240" lengthAdjust="spacingAndGlyphs" dominant-baseline="central">主要介绍企业所归属的产业领域的基本情况，</text><text x="151.00" y="200.50" font-size="12" fill="#333" textLength="240" lengthAdjust="spacingAndGlyphs" dominant-baseline="central">以及企业在整个产业或行业中的地位。和同类</text><text x="151.00" y="217.70" font-size="12" fill="#333" textLength="240" lengthAdjust="spacingAndGlyphs" dominant-baseline="central">型企业进行对比分析，做分析，表现企业的核</text><text x="151.00" y="234.20" font-size="12" fill="#333" textLength="72" lengthAdjust="spacingAndGlyphs" dominant-baseline="central">心竞争优势。</text><text x="10.00" y="348.80" font-size="7" fill="#fff" font-weight="bold" dominant-baseline="central">51</text><text x="27" y="348.8" font-size="6" fill="#fff" dominant-baseline="central" textLength="79.5" lengthAdjust="spacingAndGlyphs">Business plan | <tspan font-weight="bold">商业计划书</tspan></text><text x="460.00" y="348.80" font-size="5.6" fill="#9a9a9a" text-anchor="end" textLength="109" lengthAdjust="spacingAndGlyphs" dominant-baseline="central">www.pptgenius.com | 内部资料 禁止外传</text></svg>
</body></html>
